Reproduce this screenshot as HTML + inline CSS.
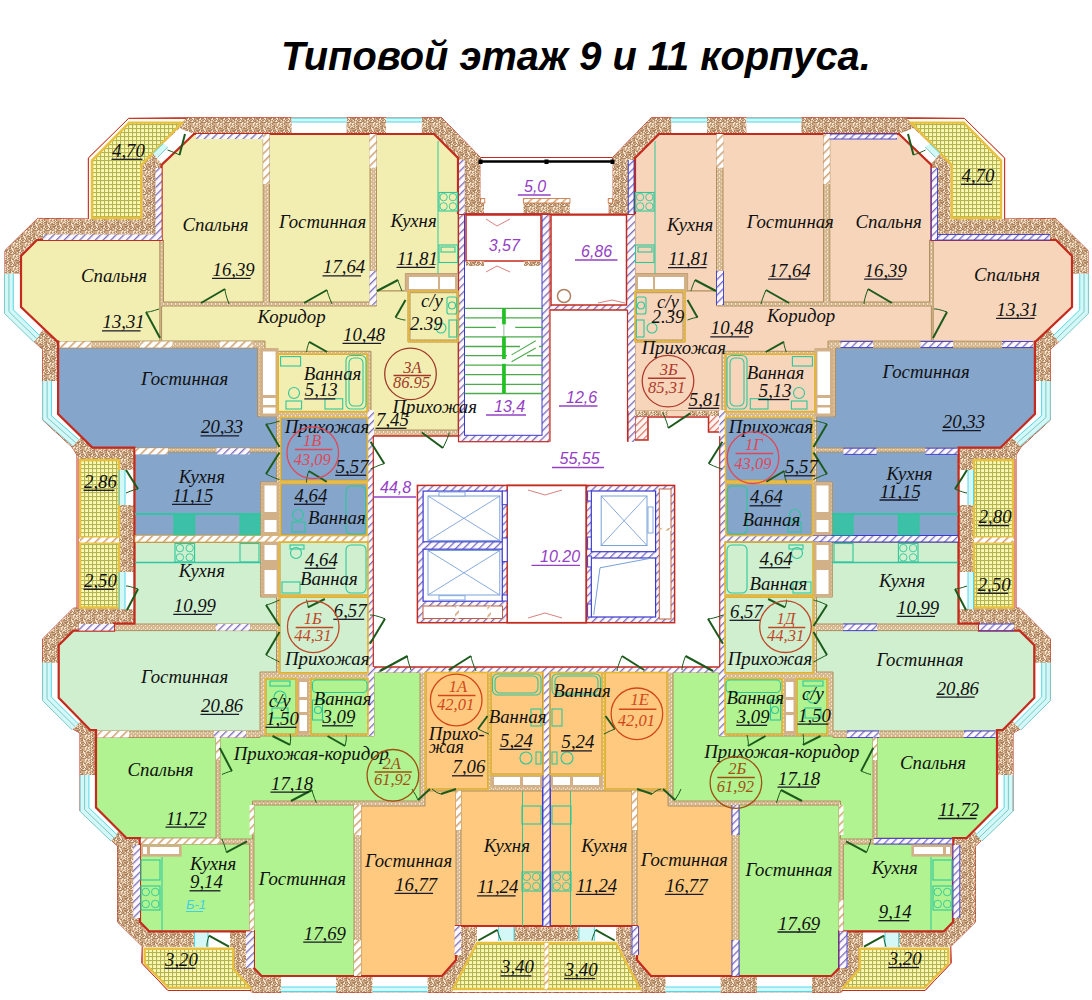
<!DOCTYPE html>
<html><head><meta charset="utf-8"><title>Типовой этаж</title>
<style>html,body{margin:0;padding:0;background:#fff;width:1092px;height:1000px;overflow:hidden}svg{display:block}</style>
</head><body><svg width="1092" height="1000" viewBox="0 0 1092 1000"><defs>
<pattern id="bal" width="4" height="4" patternUnits="userSpaceOnUse"><rect width="4" height="4" fill="#fbfab4"/><rect width="1.1" height="4" fill="#b4b452"/><rect width="4" height="1.1" fill="#b4b452"/></pattern>
<pattern id="hatchB" width="5.5" height="5.5" patternUnits="userSpaceOnUse" patternTransform="rotate(45)"><rect width="5.5" height="5.5" fill="#fdf8ff"/><rect width="1.3" height="5.5" fill="#7870b8"/></pattern>
<pattern id="hatchO" width="6" height="6" patternUnits="userSpaceOnUse" patternTransform="rotate(45)"><rect width="6" height="6" fill="#fff"/><rect width="1.5" height="6" fill="#d0a070"/></pattern>
<pattern id="brick" width="12" height="12" patternUnits="userSpaceOnUse"><rect width="12" height="12" fill="#cfab88"/><rect x="0" y="0" width="1" height="1" fill="#f3e3cd"/><rect x="1" y="0" width="1" height="1" fill="#ad8462"/><rect x="3" y="0" width="1" height="1" fill="#ad8462"/><rect x="5" y="0" width="1" height="1" fill="#f3e3cd"/><rect x="6" y="0" width="1" height="1" fill="#ad8462"/><rect x="8" y="0" width="1" height="1" fill="#ad8462"/><rect x="9" y="0" width="1" height="1" fill="#f3e3cd"/><rect x="10" y="0" width="1" height="1" fill="#ad8462"/><rect x="11" y="0" width="1" height="1" fill="#ad8462"/><rect x="0" y="1" width="1" height="1" fill="#f3e3cd"/><rect x="2" y="1" width="1" height="1" fill="#ad8462"/><rect x="3" y="1" width="1" height="1" fill="#ad8462"/><rect x="7" y="1" width="1" height="1" fill="#f3e3cd"/><rect x="9" y="1" width="1" height="1" fill="#ad8462"/><rect x="11" y="1" width="1" height="1" fill="#f3e3cd"/><rect x="0" y="2" width="1" height="1" fill="#ad8462"/><rect x="1" y="2" width="1" height="1" fill="#ad8462"/><rect x="2" y="2" width="1" height="1" fill="#f3e3cd"/><rect x="4" y="2" width="1" height="1" fill="#ad8462"/><rect x="7" y="2" width="1" height="1" fill="#f3e3cd"/><rect x="9" y="2" width="1" height="1" fill="#ad8462"/><rect x="10" y="2" width="1" height="1" fill="#ad8462"/><rect x="11" y="2" width="1" height="1" fill="#ad8462"/><rect x="1" y="3" width="1" height="1" fill="#f3e3cd"/><rect x="2" y="3" width="1" height="1" fill="#f3e3cd"/><rect x="4" y="3" width="1" height="1" fill="#f3e3cd"/><rect x="5" y="3" width="1" height="1" fill="#f3e3cd"/><rect x="8" y="3" width="1" height="1" fill="#ad8462"/><rect x="1" y="4" width="1" height="1" fill="#f3e3cd"/><rect x="3" y="4" width="1" height="1" fill="#ad8462"/><rect x="4" y="4" width="1" height="1" fill="#f3e3cd"/><rect x="6" y="4" width="1" height="1" fill="#ad8462"/><rect x="7" y="4" width="1" height="1" fill="#f3e3cd"/><rect x="8" y="4" width="1" height="1" fill="#ad8462"/><rect x="1" y="5" width="1" height="1" fill="#f3e3cd"/><rect x="5" y="5" width="1" height="1" fill="#f3e3cd"/><rect x="8" y="5" width="1" height="1" fill="#f3e3cd"/><rect x="10" y="5" width="1" height="1" fill="#ad8462"/><rect x="3" y="6" width="1" height="1" fill="#f3e3cd"/><rect x="4" y="6" width="1" height="1" fill="#f3e3cd"/><rect x="6" y="6" width="1" height="1" fill="#ad8462"/><rect x="7" y="6" width="1" height="1" fill="#f3e3cd"/><rect x="8" y="6" width="1" height="1" fill="#ad8462"/><rect x="9" y="6" width="1" height="1" fill="#ad8462"/><rect x="10" y="6" width="1" height="1" fill="#ad8462"/><rect x="0" y="7" width="1" height="1" fill="#ad8462"/><rect x="1" y="7" width="1" height="1" fill="#ad8462"/><rect x="2" y="7" width="1" height="1" fill="#f3e3cd"/><rect x="4" y="7" width="1" height="1" fill="#ad8462"/><rect x="5" y="7" width="1" height="1" fill="#f3e3cd"/><rect x="10" y="7" width="1" height="1" fill="#ad8462"/><rect x="11" y="7" width="1" height="1" fill="#f3e3cd"/><rect x="0" y="8" width="1" height="1" fill="#f3e3cd"/><rect x="3" y="8" width="1" height="1" fill="#ad8462"/><rect x="4" y="8" width="1" height="1" fill="#ad8462"/><rect x="5" y="8" width="1" height="1" fill="#ad8462"/><rect x="6" y="8" width="1" height="1" fill="#ad8462"/><rect x="7" y="8" width="1" height="1" fill="#f3e3cd"/><rect x="9" y="8" width="1" height="1" fill="#ad8462"/><rect x="10" y="8" width="1" height="1" fill="#ad8462"/><rect x="11" y="8" width="1" height="1" fill="#f3e3cd"/><rect x="0" y="9" width="1" height="1" fill="#f3e3cd"/><rect x="7" y="9" width="1" height="1" fill="#ad8462"/><rect x="0" y="10" width="1" height="1" fill="#f3e3cd"/><rect x="1" y="10" width="1" height="1" fill="#f3e3cd"/><rect x="2" y="10" width="1" height="1" fill="#ad8462"/><rect x="4" y="10" width="1" height="1" fill="#ad8462"/><rect x="5" y="10" width="1" height="1" fill="#ad8462"/><rect x="6" y="10" width="1" height="1" fill="#ad8462"/><rect x="7" y="10" width="1" height="1" fill="#ad8462"/><rect x="8" y="10" width="1" height="1" fill="#f3e3cd"/><rect x="9" y="10" width="1" height="1" fill="#ad8462"/><rect x="10" y="10" width="1" height="1" fill="#ad8462"/><rect x="11" y="10" width="1" height="1" fill="#ad8462"/><rect x="0" y="11" width="1" height="1" fill="#ad8462"/><rect x="1" y="11" width="1" height="1" fill="#f3e3cd"/><rect x="2" y="11" width="1" height="1" fill="#ad8462"/><rect x="5" y="11" width="1" height="1" fill="#ad8462"/><rect x="6" y="11" width="1" height="1" fill="#ad8462"/><rect x="7" y="11" width="1" height="1" fill="#f3e3cd"/><rect x="8" y="11" width="1" height="1" fill="#f3e3cd"/><rect x="9" y="11" width="1" height="1" fill="#ad8462"/></pattern>
<pattern id="hatchR" width="5" height="5" patternUnits="userSpaceOnUse" patternTransform="rotate(45)"><rect width="5" height="5" fill="#fff4f0"/><rect width="1.2" height="5" fill="#d87060"/></pattern>
<pattern id="ibrick" width="4" height="4" patternUnits="userSpaceOnUse"><rect width="4" height="4" fill="#d6b993"/><rect x="1" y="1" width="1" height="1" fill="#f6ead6"/><rect x="3" y="3" width="1" height="1" fill="#f6ead6"/><rect x="3" y="0" width="1" height="1" fill="#efe0c6"/></pattern>
</defs><polygon points="546.50,214.00 484.00,214.00 484.00,199.00 480.50,199.00 480.50,157.50 441.75,117.70 186.00,117.70 129.00,118.40 88.40,158.00 88.40,219.00 37.50,218.40 5.00,250.60 5.00,313.00 33.60,341.00 42.70,349.60 42.70,420.00 72.00,447.00 77.00,455.00 77.00,608.00 73.40,608.20 42.60,639.00 42.60,700.00 72.00,728.60 80.00,733.00 80.00,811.00 112.00,841.00 117.50,846.00 117.50,922.00 142.50,946.70 141.70,962.80 167.50,990.00 250.00,990.00 252.00,992.50 546.50,992.50 546.50,992.50 841.00,992.50 843.00,990.00 925.50,990.00 951.30,962.80 950.50,946.70 975.50,922.00 975.50,846.00 981.00,841.00 1013.00,811.00 1013.00,733.00 1021.00,728.60 1050.40,700.00 1050.40,639.00 1019.60,608.20 1016.00,608.00 1016.00,455.00 1021.00,447.00 1050.30,420.00 1050.30,349.60 1059.40,341.00 1088.00,313.00 1088.00,250.60 1055.50,218.40 1004.60,219.00 1004.60,158.00 964.00,118.40 907.00,117.70 651.25,117.70 612.50,157.50 612.50,199.00 609.00,199.00 609.00,214.00 546.50,214.00" fill="url(#ibrick)" stroke="#c42a1e" stroke-width="1" />
<path d="M546.50,214.00 L484.00,214.00 L484.00,199.00 L480.50,199.00 L480.50,157.50 L441.75,117.70 L186.00,117.70 L129.00,118.40 L88.40,158.00 L88.40,219.00 L37.50,218.40 L5.00,250.60 L5.00,313.00 L33.60,341.00 L42.70,349.60 L42.70,420.00 L72.00,447.00 L77.00,455.00 L77.00,608.00 L73.40,608.20 L42.60,639.00 L42.60,700.00 L72.00,728.60 L80.00,733.00 L80.00,811.00 L112.00,841.00 L117.50,846.00 L117.50,922.00 L142.50,946.70 L141.70,962.80 L167.50,990.00 L250.00,990.00 L252.00,992.50 L546.50,992.50 L546.50,992.50 L841.00,992.50 L843.00,990.00 L925.50,990.00 L951.30,962.80 L950.50,946.70 L975.50,922.00 L975.50,846.00 L981.00,841.00 L1013.00,811.00 L1013.00,733.00 L1021.00,728.60 L1050.40,700.00 L1050.40,639.00 L1019.60,608.20 L1016.00,608.00 L1016.00,455.00 L1021.00,447.00 L1050.30,420.00 L1050.30,349.60 L1059.40,341.00 L1088.00,313.00 L1088.00,250.60 L1055.50,218.40 L1004.60,219.00 L1004.60,158.00 L964.00,118.40 L907.00,117.70 L651.25,117.70 L612.50,157.50 L612.50,199.00 L609.00,199.00 L609.00,214.00 L546.50,214.00 Z M458.00,214.00 L458.00,158.00 L434.00,134.00 L194.00,134.00 L161.60,165.00 L161.60,240.00 L37.00,240.00 L21.00,256.00 L21.00,307.00 L57.40,341.60 L58.10,341.60 L58.10,414.00 L92.40,447.60 L134.40,447.60 L134.40,623.60 L114.00,623.60 L114.00,630.60 L73.40,630.60 L58.70,645.30 L58.70,697.80 L90.20,730.00 L96.00,730.00 L96.00,807.50 L126.40,838.00 L140.00,838.00 L140.00,922.00 L149.30,931.40 L253.90,931.40 L253.90,968.00 L261.50,976.00 L442.00,976.00 L456.00,960.00 L456.00,926.00 L546.50,926.00 L546.50,926.00 L637.00,926.00 L637.00,960.00 L651.00,976.00 L831.50,976.00 L839.10,968.00 L839.10,931.40 L943.70,931.40 L953.00,922.00 L953.00,838.00 L966.60,838.00 L997.00,807.50 L997.00,730.00 L1002.80,730.00 L1034.30,697.80 L1034.30,645.30 L1019.60,630.60 L979.00,630.60 L979.00,623.60 L958.60,623.60 L958.60,447.60 L1000.60,447.60 L1034.90,414.00 L1034.90,341.60 L1035.60,341.60 L1072.00,307.00 L1072.00,256.00 L1056.00,240.00 L931.40,240.00 L931.40,165.00 L899.00,134.00 L659.00,134.00 L635.00,158.00 L635.00,214.00 Z" fill="url(#brick)" fill-rule="evenodd"/>
<polygon points="88.40,219.00 88.40,158.00 128.60,118.40 186.00,118.40 142.40,165.00 142.40,219.00" fill="#fffef0" stroke="none" stroke-width="0" />
<polygon points="1004.60,219.00 1004.60,158.00 964.40,118.40 907.00,118.40 950.60,165.00 950.60,219.00" fill="#fffef0" stroke="none" stroke-width="0" />
<polygon points="77.00,459.00 119.00,459.00 119.00,608.00 77.00,608.00" fill="#fffef0" stroke="none" stroke-width="0" />
<polygon points="1016.00,459.00 974.00,459.00 974.00,608.00 1016.00,608.00" fill="#fffef0" stroke="none" stroke-width="0" />
<polygon points="142.20,946.70 233.20,946.70 233.20,968.00 251.00,990.50 168.00,990.50 142.20,963.50" fill="#fffef0" stroke="none" stroke-width="0" />
<polygon points="950.80,946.70 859.80,946.70 859.80,968.00 842.00,990.50 925.00,990.50 950.80,963.50" fill="#fffef0" stroke="none" stroke-width="0" />
<polygon points="476.00,941.00 546.50,941.00 546.50,992.00 452.00,992.00" fill="#fffef0" stroke="none" stroke-width="0" />
<polygon points="617.00,941.00 546.50,941.00 546.50,992.00 641.00,992.00" fill="#fffef0" stroke="none" stroke-width="0" />
<polygon points="92.00,218.00 92.00,160.40 129.20,122.60 182.00,122.60 141.20,165.20 141.20,218.00" fill="url(#bal)" stroke="#e8c040" stroke-width="2.4" />
<polygon points="1001.00,218.00 1001.00,160.40 963.80,122.60 911.00,122.60 951.80,165.20 951.80,218.00" fill="url(#bal)" stroke="#e8c040" stroke-width="2.4" />
<polygon points="80.00,460.00 119.00,460.00 119.00,537.50 80.00,537.50" fill="url(#bal)" stroke="#e8c040" stroke-width="2.4" />
<polygon points="1013.00,460.00 974.00,460.00 974.00,537.50 1013.00,537.50" fill="url(#bal)" stroke="#e8c040" stroke-width="2.4" />
<polygon points="80.00,542.50 119.00,542.50 119.00,607.50 80.00,607.50" fill="url(#bal)" stroke="#e8c040" stroke-width="2.4" />
<polygon points="1013.00,542.50 974.00,542.50 974.00,607.50 1013.00,607.50" fill="url(#bal)" stroke="#e8c040" stroke-width="2.4" />
<polygon points="144.70,948.70 233.20,948.70 233.20,968.60 249.90,987.80 168.50,987.80 144.70,963.50" fill="url(#bal)" stroke="#e8c040" stroke-width="2.4" />
<polygon points="948.30,948.70 859.80,948.70 859.80,968.60 843.10,987.80 924.50,987.80 948.30,963.50" fill="url(#bal)" stroke="#e8c040" stroke-width="2.4" />
<polygon points="477.00,943.00 545.00,943.00 545.00,989.00 453.00,989.00" fill="url(#bal)" stroke="#e8c040" stroke-width="2.4" />
<polygon points="616.00,943.00 548.00,943.00 548.00,989.00 640.00,989.00" fill="url(#bal)" stroke="#e8c040" stroke-width="2.4" />
<rect x="80.00" y="537.50" width="39.00" height="5.00" fill="url(#hatchO)" stroke="none" stroke-width="0" />
<rect x="974.00" y="537.50" width="39.00" height="5.00" fill="url(#hatchO)" stroke="none" stroke-width="0" />
<rect x="545.00" y="943.00" width="3.50" height="46.00" fill="url(#hatchO)" stroke="none" stroke-width="0" />
<rect x="544.50" y="943.00" width="3.50" height="46.00" fill="url(#hatchO)" stroke="none" stroke-width="0" />
<polyline points="88.40,219.00 88.40,158.00 128.60,118.40 186.00,118.40" fill="none" stroke="#c42a1e" stroke-width="1" />
<polyline points="1004.60,219.00 1004.60,158.00 964.40,118.40 907.00,118.40" fill="none" stroke="#c42a1e" stroke-width="1" />
<polyline points="78.00,459.00 78.00,608.00" fill="none" stroke="#c42a1e" stroke-width="1" />
<polyline points="1015.00,459.00 1015.00,608.00" fill="none" stroke="#c42a1e" stroke-width="1" />
<polyline points="142.20,946.70 142.20,963.50 168.00,990.50 251.00,990.50" fill="none" stroke="#c42a1e" stroke-width="1" />
<polyline points="950.80,946.70 950.80,963.50 925.00,990.50 842.00,990.50" fill="none" stroke="#c42a1e" stroke-width="1" />
<polygon points="37.00,240.00 159.80,240.00 159.80,341.00 57.40,341.60 21.00,307.00 21.00,256.00" fill="#f2eeb2" stroke="#b0905f" stroke-width="1" />
<polygon points="1056.00,240.00 933.20,240.00 933.20,341.00 1035.60,341.60 1072.00,307.00 1072.00,256.00" fill="#f7d5ba" stroke="#b0905f" stroke-width="1" />
<polygon points="194.00,134.00 263.20,134.00 263.20,302.00 163.50,302.00 163.50,240.00 161.60,240.00 161.60,164.00" fill="#f2eeb2" stroke="#b0905f" stroke-width="1" />
<polygon points="899.00,134.00 829.80,134.00 829.80,302.00 929.50,302.00 929.50,240.00 931.40,240.00 931.40,164.00" fill="#f7d5ba" stroke="#b0905f" stroke-width="1" />
<polygon points="269.50,134.00 370.00,134.00 370.00,302.00 269.50,302.00" fill="#f2eeb2" stroke="#b0905f" stroke-width="1" />
<polygon points="823.50,134.00 723.00,134.00 723.00,302.00 823.50,302.00" fill="#f7d5ba" stroke="#b0905f" stroke-width="1" />
<polygon points="376.50,134.00 434.00,134.00 458.00,158.00 458.00,273.50 405.40,273.50 405.40,291.00 376.50,291.00" fill="#f2eeb2" stroke="#b0905f" stroke-width="1" />
<polygon points="716.50,134.00 659.00,134.00 635.00,158.00 635.00,273.50 687.60,273.50 687.60,291.00 716.50,291.00" fill="#f7d5ba" stroke="#b0905f" stroke-width="1" />
<polygon points="410.00,292.70 457.00,292.70 457.00,340.00 410.00,340.00" fill="#f2eeb2" stroke="#b0905f" stroke-width="1" />
<polygon points="683.00,292.70 636.00,292.70 636.00,340.00 683.00,340.00" fill="#f7d5ba" stroke="#b0905f" stroke-width="1" />
<polygon points="278.50,354.50 367.00,354.50 367.00,411.40 278.50,411.40" fill="#f2eeb2" stroke="#b0905f" stroke-width="1" />
<polygon points="814.50,354.50 726.00,354.50 726.00,411.40 814.50,411.40" fill="#f7d5ba" stroke="#b0905f" stroke-width="1" />
<polygon points="161.60,306.00 376.50,306.00 376.50,291.00 408.00,291.00 408.00,342.00 458.00,342.00 458.00,430.00 371.00,430.00 371.00,351.30 265.00,351.30 265.00,341.00 161.60,341.00" fill="#f2eeb2" stroke="#b0905f" stroke-width="1" />
<polygon points="931.40,306.00 716.50,306.00 716.50,291.00 685.00,291.00 685.00,342.00 635.00,342.00 635.00,411.00 722.00,411.00 722.00,351.30 828.00,351.30 828.00,341.00 931.40,341.00" fill="#f7d5ba" stroke="#b0905f" stroke-width="1" />
<polygon points="58.10,348.00 257.50,348.00 257.50,416.50 276.50,416.50 276.50,448.00 92.40,448.00 58.10,414.00" fill="#85a5cb" stroke="#b0905f" stroke-width="1" />
<polygon points="1034.90,348.00 835.50,348.00 835.50,416.50 816.50,416.50 816.50,448.00 1000.60,448.00 1034.90,414.00" fill="#85a5cb" stroke="#b0905f" stroke-width="1" />
<polygon points="135.00,452.00 276.50,452.00 276.50,482.00 260.70,482.00 260.70,535.50 135.00,535.50" fill="#85a5cb" stroke="#b0905f" stroke-width="1" />
<polygon points="958.00,452.00 816.50,452.00 816.50,482.00 832.30,482.00 832.30,535.50 958.00,535.50" fill="#85a5cb" stroke="#b0905f" stroke-width="1" />
<polygon points="281.00,418.00 367.20,418.00 367.20,480.20 281.00,480.20" fill="#85a5cb" stroke="#b0905f" stroke-width="1" />
<polygon points="812.00,418.00 725.80,418.00 725.80,480.20 812.00,480.20" fill="#85a5cb" stroke="#b0905f" stroke-width="1" />
<polygon points="281.00,484.00 366.50,484.00 366.50,535.00 281.00,535.00" fill="#85a5cb" stroke="#b0905f" stroke-width="1" />
<polygon points="812.00,484.00 726.50,484.00 726.50,535.00 812.00,535.00" fill="#85a5cb" stroke="#b0905f" stroke-width="1" />
<polygon points="135.00,542.50 260.70,542.50 260.70,597.00 276.50,597.00 276.50,624.00 135.00,624.00" fill="#cfefcf" stroke="#b0905f" stroke-width="1" />
<polygon points="958.00,542.50 832.30,542.50 832.30,597.00 816.50,597.00 816.50,624.00 958.00,624.00" fill="#cfefcf" stroke="#b0905f" stroke-width="1" />
<polygon points="73.40,630.60 276.50,630.60 276.50,672.00 260.00,672.00 260.00,731.00 90.20,731.00 58.70,697.80 58.70,645.30" fill="#cfefcf" stroke="#b0905f" stroke-width="1" />
<polygon points="1019.60,630.60 816.50,630.60 816.50,672.00 833.00,672.00 833.00,731.00 1002.80,731.00 1034.30,697.80 1034.30,645.30" fill="#cfefcf" stroke="#b0905f" stroke-width="1" />
<polygon points="280.00,597.50 367.50,597.50 367.50,672.50 280.00,672.50" fill="#cfefcf" stroke="#b0905f" stroke-width="1" />
<polygon points="813.00,597.50 725.50,597.50 725.50,672.50 813.00,672.50" fill="#cfefcf" stroke="#b0905f" stroke-width="1" />
<polygon points="280.00,542.50 367.50,542.50 367.50,595.00 280.00,595.00" fill="#cfefcf" stroke="#b0905f" stroke-width="1" />
<polygon points="813.00,542.50 725.50,542.50 725.50,595.00 813.00,595.00" fill="#cfefcf" stroke="#b0905f" stroke-width="1" />
<polygon points="96.00,737.50 216.00,737.50 216.00,838.00 126.40,838.00 96.00,807.50" fill="#b0f390" stroke="#b0905f" stroke-width="1" />
<polygon points="997.00,737.50 877.00,737.50 877.00,838.00 966.60,838.00 997.00,807.50" fill="#b0f390" stroke="#b0905f" stroke-width="1" />
<polygon points="220.00,737.50 260.00,737.50 260.00,736.00 374.00,736.00 374.00,672.50 420.00,672.50 420.00,801.00 252.50,801.00 252.50,839.00 220.00,839.00" fill="#b0f390" stroke="#b0905f" stroke-width="1" />
<polygon points="873.00,737.50 833.00,737.50 833.00,736.00 719.00,736.00 719.00,672.50 673.00,672.50 673.00,801.00 840.50,801.00 840.50,839.00 873.00,839.00" fill="#b0f390" stroke="#b0905f" stroke-width="1" />
<polygon points="253.90,805.00 354.00,805.00 354.00,976.00 261.50,976.00 253.90,968.00" fill="#b0f390" stroke="#b0905f" stroke-width="1" />
<polygon points="839.10,805.00 739.00,805.00 739.00,976.00 831.50,976.00 839.10,968.00" fill="#b0f390" stroke="#b0905f" stroke-width="1" />
<polygon points="140.00,844.00 249.60,844.00 249.60,931.40 149.30,931.40 140.00,922.00" fill="#b0f390" stroke="#b0905f" stroke-width="1" />
<polygon points="953.00,844.00 843.40,844.00 843.40,931.40 943.70,931.40 953.00,922.00" fill="#b0f390" stroke="#b0905f" stroke-width="1" />
<polygon points="266.00,679.00 296.00,679.00 296.00,734.00 266.00,734.00" fill="#b0f390" stroke="#b0905f" stroke-width="1" />
<polygon points="827.00,679.00 797.00,679.00 797.00,734.00 827.00,734.00" fill="#b0f390" stroke="#b0905f" stroke-width="1" />
<polygon points="311.00,679.00 367.50,679.00 367.50,734.00 311.00,734.00" fill="#b0f390" stroke="#b0905f" stroke-width="1" />
<polygon points="782.00,679.00 725.50,679.00 725.50,734.00 782.00,734.00" fill="#b0f390" stroke="#b0905f" stroke-width="1" />
<polygon points="426.00,672.00 487.50,672.00 487.50,789.00 426.00,789.00" fill="#ffc980" stroke="#b0905f" stroke-width="1" />
<polygon points="667.00,672.00 605.50,672.00 605.50,789.00 667.00,789.00" fill="#ffc980" stroke="#b0905f" stroke-width="1" />
<polygon points="491.00,672.00 542.50,672.00 542.50,774.00 491.00,774.00" fill="#ffc980" stroke="#b0905f" stroke-width="1" />
<polygon points="602.00,672.00 550.50,672.00 550.50,774.00 602.00,774.00" fill="#ffc980" stroke="#b0905f" stroke-width="1" />
<polygon points="361.00,806.00 425.00,806.00 425.00,791.00 456.00,791.00 456.00,960.00 442.00,976.00 361.00,976.00" fill="#ffc980" stroke="#b0905f" stroke-width="1" />
<polygon points="732.00,806.00 668.00,806.00 668.00,791.00 637.00,791.00 637.00,960.00 651.00,976.00 732.00,976.00" fill="#ffc980" stroke="#b0905f" stroke-width="1" />
<polygon points="461.00,791.00 542.50,791.00 542.50,926.00 461.00,926.00" fill="#ffc980" stroke="#b0905f" stroke-width="1" />
<polygon points="632.00,791.00 550.50,791.00 550.50,926.00 632.00,926.00" fill="#ffc980" stroke="#b0905f" stroke-width="1" />
<polygon points="291.60,117.70 346.60,117.70 346.60,133.80 291.60,133.80" fill="#ffffff" stroke="none" stroke-width="0" />
<polygon points="801.40,117.70 746.40,117.70 746.40,133.80 801.40,133.80" fill="#ffffff" stroke="none" stroke-width="0" />
<polygon points="386.00,117.70 421.70,117.70 421.70,133.80 386.00,133.80" fill="#ffffff" stroke="none" stroke-width="0" />
<polygon points="707.00,117.70 671.30,117.70 671.30,133.80 707.00,133.80" fill="#ffffff" stroke="none" stroke-width="0" />
<polygon points="153.00,153.40 179.40,128.20 193.20,133.50 161.40,163.60" fill="#ffffff" stroke="none" stroke-width="0" />
<polygon points="940.00,153.40 913.60,128.20 899.80,133.50 931.60,163.60" fill="#ffffff" stroke="none" stroke-width="0" />
<polygon points="4.55,273.70 20.65,273.70 20.65,306.80 43.50,329.00 33.60,341.80 4.55,313.50" fill="#ffffff" stroke="none" stroke-width="0" />
<polygon points="1088.45,273.70 1072.35,273.70 1072.35,306.80 1049.50,329.00 1059.40,341.80 1088.45,313.50" fill="#ffffff" stroke="none" stroke-width="0" />
<polygon points="42.70,381.00 58.10,381.00 58.10,414.00 81.50,437.00 72.80,446.00 42.70,419.60" fill="#ffffff" stroke="none" stroke-width="0" />
<polygon points="1050.30,381.00 1034.90,381.00 1034.90,414.00 1011.50,437.00 1020.20,446.00 1050.30,419.60" fill="#ffffff" stroke="none" stroke-width="0" />
<polygon points="119.00,470.00 134.40,470.00 134.40,505.00 119.00,505.00" fill="#ffffff" stroke="none" stroke-width="0" />
<polygon points="974.00,470.00 958.60,470.00 958.60,505.00 974.00,505.00" fill="#ffffff" stroke="none" stroke-width="0" />
<polygon points="119.00,572.00 134.40,572.00 134.40,609.00 119.00,609.00" fill="#ffffff" stroke="none" stroke-width="0" />
<polygon points="974.00,572.00 958.60,572.00 958.60,609.00 974.00,609.00" fill="#ffffff" stroke="none" stroke-width="0" />
<polygon points="42.60,662.80 58.70,662.80 58.70,697.80 81.00,720.50 72.00,729.80 42.60,700.60" fill="#ffffff" stroke="none" stroke-width="0" />
<polygon points="1050.40,662.80 1034.30,662.80 1034.30,697.80 1012.00,720.50 1021.00,729.80 1050.40,700.60" fill="#ffffff" stroke="none" stroke-width="0" />
<polygon points="80.20,775.00 96.00,775.00 96.00,807.50 119.00,830.50 111.00,841.00 80.20,811.50" fill="#ffffff" stroke="none" stroke-width="0" />
<polygon points="1012.80,775.00 997.00,775.00 997.00,807.50 974.00,830.50 982.00,841.00 1012.80,811.50" fill="#ffffff" stroke="none" stroke-width="0" />
<polygon points="194.00,931.40 230.00,931.40 230.00,947.00 194.00,947.00" fill="#ffffff" stroke="none" stroke-width="0" />
<polygon points="899.00,931.40 863.00,931.40 863.00,947.00 899.00,947.00" fill="#ffffff" stroke="none" stroke-width="0" />
<polygon points="281.00,976.00 336.00,976.00 336.00,992.50 281.00,992.50" fill="#ffffff" stroke="none" stroke-width="0" />
<polygon points="812.00,976.00 757.00,976.00 757.00,992.50 812.00,992.50" fill="#ffffff" stroke="none" stroke-width="0" />
<polygon points="372.50,976.00 427.50,976.00 427.50,992.50 372.50,992.50" fill="#ffffff" stroke="none" stroke-width="0" />
<polygon points="720.50,976.00 665.50,976.00 665.50,992.50 720.50,992.50" fill="#ffffff" stroke="none" stroke-width="0" />
<polygon points="477.00,926.00 514.00,926.00 514.00,941.00 477.00,941.00" fill="#ffffff" stroke="none" stroke-width="0" />
<polygon points="616.00,926.00 579.00,926.00 579.00,941.00 616.00,941.00" fill="#ffffff" stroke="none" stroke-width="0" />
<polyline points="8.85,273.70 8.85,311.69 36.60,338.72" fill="none" stroke="#d4f8f8" stroke-width="8.6" />
<polyline points="1084.15,273.70 1084.15,311.69 1056.40,338.72" fill="none" stroke="#d4f8f8" stroke-width="8.6" />
<polyline points="4.55,273.70 4.55,313.50 33.60,341.80" fill="none" stroke="#7cc8c8" stroke-width="1" />
<polyline points="1088.45,273.70 1088.45,313.50 1059.40,341.80" fill="none" stroke="#7cc8c8" stroke-width="1" />
<polyline points="8.95,273.70 8.95,311.64 36.67,338.65" fill="none" stroke="#7cc8c8" stroke-width="1" />
<polyline points="1084.05,273.70 1084.05,311.64 1056.33,338.65" fill="none" stroke="#7cc8c8" stroke-width="1" />
<polyline points="13.25,273.70 13.25,309.83 39.67,335.57" fill="none" stroke="#4fd8e8" stroke-width="1" />
<polyline points="1079.75,273.70 1079.75,309.83 1053.33,335.57" fill="none" stroke="#4fd8e8" stroke-width="1" />
<polyline points="47.00,381.00 47.00,417.65 75.64,442.77" fill="none" stroke="#d4f8f8" stroke-width="8.6" />
<polyline points="1046.00,381.00 1046.00,417.65 1017.36,442.77" fill="none" stroke="#d4f8f8" stroke-width="8.6" />
<polyline points="42.70,381.00 42.70,419.60 72.80,446.00" fill="none" stroke="#7cc8c8" stroke-width="1" />
<polyline points="1050.30,381.00 1050.30,419.60 1020.20,446.00" fill="none" stroke="#7cc8c8" stroke-width="1" />
<polyline points="47.10,381.00 47.10,417.61 75.70,442.69" fill="none" stroke="#7cc8c8" stroke-width="1" />
<polyline points="1045.90,381.00 1045.90,417.61 1017.30,442.69" fill="none" stroke="#7cc8c8" stroke-width="1" />
<polyline points="51.40,381.00 51.40,415.66 78.54,439.46" fill="none" stroke="#4fd8e8" stroke-width="1" />
<polyline points="1041.60,381.00 1041.60,415.66 1014.46,439.46" fill="none" stroke="#4fd8e8" stroke-width="1" />
<polyline points="46.90,662.80 46.90,698.81 75.03,726.75" fill="none" stroke="#d4f8f8" stroke-width="8.6" />
<polyline points="1046.10,662.80 1046.10,698.81 1017.97,726.75" fill="none" stroke="#d4f8f8" stroke-width="8.6" />
<polyline points="42.60,662.80 42.60,700.60 72.00,729.80" fill="none" stroke="#7cc8c8" stroke-width="1" />
<polyline points="1050.40,662.80 1050.40,700.60 1021.00,729.80" fill="none" stroke="#7cc8c8" stroke-width="1" />
<polyline points="47.00,662.80 47.00,698.77 75.10,726.68" fill="none" stroke="#7cc8c8" stroke-width="1" />
<polyline points="1046.00,662.80 1046.00,698.77 1017.90,726.68" fill="none" stroke="#7cc8c8" stroke-width="1" />
<polyline points="51.30,662.80 51.30,696.98 78.13,723.63" fill="none" stroke="#4fd8e8" stroke-width="1" />
<polyline points="1041.70,662.80 1041.70,696.98 1014.87,723.63" fill="none" stroke="#4fd8e8" stroke-width="1" />
<polyline points="84.50,775.00 84.50,809.66 113.97,837.89" fill="none" stroke="#d4f8f8" stroke-width="8.6" />
<polyline points="1008.50,775.00 1008.50,809.66 979.03,837.89" fill="none" stroke="#d4f8f8" stroke-width="8.6" />
<polyline points="80.20,775.00 80.20,811.50 111.00,841.00" fill="none" stroke="#7cc8c8" stroke-width="1" />
<polyline points="1012.80,775.00 1012.80,811.50 982.00,841.00" fill="none" stroke="#7cc8c8" stroke-width="1" />
<polyline points="84.60,775.00 84.60,809.62 114.04,837.82" fill="none" stroke="#7cc8c8" stroke-width="1" />
<polyline points="1008.40,775.00 1008.40,809.62 978.96,837.82" fill="none" stroke="#7cc8c8" stroke-width="1" />
<polyline points="88.90,775.00 88.90,807.79 117.02,834.72" fill="none" stroke="#4fd8e8" stroke-width="1" />
<polyline points="1004.10,775.00 1004.10,807.79 975.98,834.72" fill="none" stroke="#4fd8e8" stroke-width="1" />
<rect x="291.60" y="117.70" width="55.00" height="4.30" fill="#d4f8f8" stroke="none" stroke-width="0" />
<rect x="746.40" y="117.70" width="55.00" height="4.30" fill="#d4f8f8" stroke="none" stroke-width="0" />
<rect x="386.00" y="117.70" width="35.70" height="4.30" fill="#d4f8f8" stroke="none" stroke-width="0" />
<rect x="671.30" y="117.70" width="35.70" height="4.30" fill="#d4f8f8" stroke="none" stroke-width="0" />
<rect x="281.00" y="987.00" width="55.00" height="5.50" fill="#d4f8f8" stroke="none" stroke-width="0" />
<rect x="757.00" y="987.00" width="55.00" height="5.50" fill="#d4f8f8" stroke="none" stroke-width="0" />
<rect x="372.50" y="987.00" width="55.00" height="5.50" fill="#d4f8f8" stroke="none" stroke-width="0" />
<rect x="665.50" y="987.00" width="55.00" height="5.50" fill="#d4f8f8" stroke="none" stroke-width="0" />
<rect x="498.60" y="926.00" width="15.40" height="15.00" fill="#d4f8f8" stroke="none" stroke-width="0" />
<rect x="579.00" y="926.00" width="15.40" height="15.00" fill="#d4f8f8" stroke="none" stroke-width="0" />
<rect x="194.00" y="931.40" width="14.00" height="15.60" fill="#d4f8f8" stroke="none" stroke-width="0" />
<rect x="885.00" y="931.40" width="14.00" height="15.60" fill="#d4f8f8" stroke="none" stroke-width="0" />
<rect x="119.00" y="470.00" width="6.00" height="35.00" fill="#d4f8f8" stroke="none" stroke-width="0" />
<rect x="968.00" y="470.00" width="6.00" height="35.00" fill="#d4f8f8" stroke="none" stroke-width="0" />
<rect x="119.00" y="572.00" width="6.00" height="37.00" fill="#d4f8f8" stroke="none" stroke-width="0" />
<rect x="968.00" y="572.00" width="6.00" height="37.00" fill="#d4f8f8" stroke="none" stroke-width="0" />
<line x1="291.60" y1="118.20" x2="346.60" y2="118.20" stroke="#4fd8e8" stroke-width="1" />
<line x1="801.40" y1="118.20" x2="746.40" y2="118.20" stroke="#4fd8e8" stroke-width="1" />
<line x1="291.60" y1="122.00" x2="346.60" y2="122.00" stroke="#4fd8e8" stroke-width="1" />
<line x1="801.40" y1="122.00" x2="746.40" y2="122.00" stroke="#4fd8e8" stroke-width="1" />
<line x1="386.00" y1="118.20" x2="421.70" y2="118.20" stroke="#4fd8e8" stroke-width="1" />
<line x1="707.00" y1="118.20" x2="671.30" y2="118.20" stroke="#4fd8e8" stroke-width="1" />
<line x1="386.00" y1="122.00" x2="421.70" y2="122.00" stroke="#4fd8e8" stroke-width="1" />
<line x1="707.00" y1="122.00" x2="671.30" y2="122.00" stroke="#4fd8e8" stroke-width="1" />
<line x1="281.00" y1="991.50" x2="336.00" y2="991.50" stroke="#4fd8e8" stroke-width="1" />
<line x1="812.00" y1="991.50" x2="757.00" y2="991.50" stroke="#4fd8e8" stroke-width="1" />
<line x1="281.00" y1="987.00" x2="336.00" y2="987.00" stroke="#4fd8e8" stroke-width="1" />
<line x1="812.00" y1="987.00" x2="757.00" y2="987.00" stroke="#4fd8e8" stroke-width="1" />
<line x1="372.50" y1="991.50" x2="427.50" y2="991.50" stroke="#4fd8e8" stroke-width="1" />
<line x1="720.50" y1="991.50" x2="665.50" y2="991.50" stroke="#4fd8e8" stroke-width="1" />
<line x1="372.50" y1="987.00" x2="427.50" y2="987.00" stroke="#4fd8e8" stroke-width="1" />
<line x1="720.50" y1="987.00" x2="665.50" y2="987.00" stroke="#4fd8e8" stroke-width="1" />
<line x1="498.60" y1="926.00" x2="498.60" y2="941.00" stroke="#4fd8e8" stroke-width="1" />
<line x1="594.40" y1="926.00" x2="594.40" y2="941.00" stroke="#4fd8e8" stroke-width="1" />
<line x1="514.00" y1="926.00" x2="514.00" y2="941.00" stroke="#4fd8e8" stroke-width="1" />
<line x1="579.00" y1="926.00" x2="579.00" y2="941.00" stroke="#4fd8e8" stroke-width="1" />
<line x1="194.50" y1="931.40" x2="194.50" y2="947.00" stroke="#4fd8e8" stroke-width="1" />
<line x1="898.50" y1="931.40" x2="898.50" y2="947.00" stroke="#4fd8e8" stroke-width="1" />
<line x1="208.00" y1="931.40" x2="208.00" y2="947.00" stroke="#4fd8e8" stroke-width="1" />
<line x1="885.00" y1="931.40" x2="885.00" y2="947.00" stroke="#4fd8e8" stroke-width="1" />
<line x1="119.50" y1="470.00" x2="119.50" y2="505.00" stroke="#4fd8e8" stroke-width="1" />
<line x1="973.50" y1="470.00" x2="973.50" y2="505.00" stroke="#4fd8e8" stroke-width="1" />
<line x1="125.00" y1="470.00" x2="125.00" y2="505.00" stroke="#4fd8e8" stroke-width="1" />
<line x1="968.00" y1="470.00" x2="968.00" y2="505.00" stroke="#4fd8e8" stroke-width="1" />
<line x1="119.50" y1="572.00" x2="119.50" y2="609.00" stroke="#4fd8e8" stroke-width="1" />
<line x1="973.50" y1="572.00" x2="973.50" y2="609.00" stroke="#4fd8e8" stroke-width="1" />
<line x1="125.00" y1="572.00" x2="125.00" y2="609.00" stroke="#4fd8e8" stroke-width="1" />
<line x1="968.00" y1="572.00" x2="968.00" y2="609.00" stroke="#4fd8e8" stroke-width="1" />
<polygon points="153.00,153.40 163.20,143.60 167.80,147.00 157.50,157.40" fill="#d4f8f8" stroke="none" stroke-width="0" />
<polygon points="940.00,153.40 929.80,143.60 925.20,147.00 935.50,157.40" fill="#d4f8f8" stroke="none" stroke-width="0" />
<polyline points="153.00,153.40 163.20,143.60" fill="none" stroke="#4fd8e8" stroke-width="1" />
<polyline points="940.00,153.40 929.80,143.60" fill="none" stroke="#4fd8e8" stroke-width="1" />
<polyline points="157.50,157.40 167.80,147.00" fill="none" stroke="#7cc8c8" stroke-width="1" />
<polyline points="935.50,157.40 925.20,147.00" fill="none" stroke="#7cc8c8" stroke-width="1" />
<polyline points="458.00,214.00 458.00,158.00 434.00,134.00 194.00,134.00 161.60,165.00 161.60,240.00 37.00,240.00 21.00,256.00 21.00,307.00 57.40,341.60 58.10,341.60 58.10,414.00 92.40,447.60 134.40,447.60 134.40,623.60 114.00,623.60 114.00,630.60 73.40,630.60 58.70,645.30 58.70,697.80 90.20,730.00 96.00,730.00 96.00,807.50 126.40,838.00 140.00,838.00 140.00,922.00 149.30,931.40 253.90,931.40 253.90,968.00 261.50,976.00 442.00,976.00 456.00,960.00 456.00,926.00 546.50,926.00" fill="none" stroke="#c42a1e" stroke-width="2.2" stroke-linejoin="miter"/>
<polyline points="635.00,214.00 635.00,158.00 659.00,134.00 899.00,134.00 931.40,165.00 931.40,240.00 1056.00,240.00 1072.00,256.00 1072.00,307.00 1035.60,341.60 1034.90,341.60 1034.90,414.00 1000.60,447.60 958.60,447.60 958.60,623.60 979.00,623.60 979.00,630.60 1019.60,630.60 1034.30,645.30 1034.30,697.80 1002.80,730.00 997.00,730.00 997.00,807.50 966.60,838.00 953.00,838.00 953.00,922.00 943.70,931.40 839.10,931.40 839.10,968.00 831.50,976.00 651.00,976.00 637.00,960.00 637.00,926.00 546.50,926.00" fill="none" stroke="#c42a1e" stroke-width="2.2" stroke-linejoin="miter"/>
<rect x="480.50" y="160.00" width="132.00" height="39.00" fill="#fff" stroke="none" stroke-width="0" />
<rect x="484.00" y="203.00" width="39.30" height="11.00" fill="#fff" stroke="none" stroke-width="0" />
<rect x="570.00" y="203.00" width="38.50" height="11.00" fill="#fff" stroke="none" stroke-width="0" />
<rect x="523.30" y="198.60" width="46.70" height="15.60" fill="url(#brick)" stroke="none" stroke-width="0" />
<rect x="523.30" y="198.60" width="46.70" height="4.40" fill="url(#hatchO)" stroke="#c87040" stroke-width="0.8" />
<rect x="480.50" y="198.60" width="4.30" height="4.40" fill="url(#hatchO)" stroke="#c87040" stroke-width="0.8" />
<rect x="608.20" y="198.60" width="4.30" height="4.40" fill="url(#hatchO)" stroke="#c87040" stroke-width="0.8" />
<line x1="480.50" y1="157.50" x2="612.50" y2="157.50" stroke="#c42a1e" stroke-width="1.2" />
<line x1="480.50" y1="161.60" x2="612.50" y2="161.60" stroke="#000" stroke-width="2.5" />
<rect x="478.50" y="159.50" width="4.00" height="4.50" fill="#000" stroke="none" stroke-width="0" />
<rect x="544.50" y="159.50" width="4.00" height="4.50" fill="#000" stroke="none" stroke-width="0" />
<rect x="610.50" y="159.50" width="4.00" height="4.50" fill="#000" stroke="none" stroke-width="0" />
<rect x="367.50" y="410.00" width="6.50" height="326.00" fill="url(#hatchB)" stroke="none" stroke-width="0" />
<rect x="719.00" y="410.00" width="6.50" height="326.00" fill="url(#hatchB)" stroke="none" stroke-width="0" />
<rect x="374.00" y="436.00" width="345.50" height="231.00" fill="#fff" stroke="none" stroke-width="0" />
<rect x="549.50" y="420.00" width="170.00" height="25.00" fill="#fff" stroke="none" stroke-width="0" />
<line x1="373.30" y1="436.00" x2="458.50" y2="436.00" stroke="#c42a1e" stroke-width="1.5" />
<rect x="374.00" y="667.00" width="345.50" height="5.50" fill="url(#hatchB)" stroke="none" stroke-width="0" />
<line x1="374.00" y1="667.00" x2="719.50" y2="667.00" stroke="#c42a1e" stroke-width="1.5" />
<line x1="373.30" y1="436.00" x2="373.30" y2="667.00" stroke="#c42a1e" stroke-width="1.2" />
<line x1="719.70" y1="436.00" x2="719.70" y2="667.00" stroke="#c42a1e" stroke-width="1.2" />
<rect x="458.50" y="214.00" width="91.00" height="227.70" fill="url(#hatchB)" stroke="none" stroke-width="0" />
<rect x="464.50" y="214.00" width="77.50" height="221.30" fill="#fff" stroke="#3a3ad0" stroke-width="1" />
<rect x="466.00" y="215.00" width="75.00" height="46.00" fill="#fff" stroke="#c42a1e" stroke-width="1.5" />
<rect x="458.50" y="214.00" width="91.00" height="227.70" fill="none" stroke="#c42a1e" stroke-width="1.2" />
<rect x="466.00" y="261.00" width="18.00" height="5.00" fill="url(#brick)" stroke="none" stroke-width="0" />
<rect x="524.00" y="261.00" width="17.00" height="5.00" fill="url(#brick)" stroke="none" stroke-width="0" />
<line x1="486.00" y1="219.00" x2="497.00" y2="226.00" stroke="#d06060" stroke-width="0.8" />
<line x1="497.00" y1="226.00" x2="510.00" y2="219.00" stroke="#d06060" stroke-width="0.8" />
<line x1="486.00" y1="272.00" x2="497.00" y2="266.00" stroke="#d06060" stroke-width="0.8" />
<line x1="497.00" y1="266.00" x2="510.00" y2="272.00" stroke="#d06060" stroke-width="0.8" />
<rect x="549.50" y="214.00" width="85.50" height="227.70" fill="url(#hatchB)" stroke="none" stroke-width="0" />
<rect x="551.00" y="215.00" width="75.50" height="90.00" fill="#fff" stroke="#c42a1e" stroke-width="1.5" />
<rect x="549.50" y="310.00" width="78.00" height="135.00" fill="#fff" stroke="none" stroke-width="0" />
<line x1="550.00" y1="310.00" x2="627.50" y2="310.00" stroke="#c42a1e" stroke-width="1.5" />
<line x1="550.00" y1="310.00" x2="550.00" y2="441.70" stroke="#c42a1e" stroke-width="1.2" />
<line x1="627.50" y1="310.00" x2="627.50" y2="441.70" stroke="#c42a1e" stroke-width="1.2" />
<line x1="458.00" y1="214.20" x2="635.00" y2="214.20" stroke="#c42a1e" stroke-width="1.5" />
<circle cx="564" cy="296" r="6.5" fill="none" stroke="#b08060" stroke-width="1.5"/>
<line x1="598.00" y1="303.00" x2="612.00" y2="300.00" stroke="#d06060" stroke-width="0.8" />
<line x1="612.00" y1="300.00" x2="625.00" y2="303.00" stroke="#d06060" stroke-width="0.8" />
<rect x="628.00" y="411.00" width="7.00" height="30.70" fill="url(#hatchB)" stroke="none" stroke-width="0" />
<rect x="635.00" y="416.00" width="84.00" height="25.70" fill="#fff" stroke="none" stroke-width="0" />
<rect x="635.00" y="411.00" width="84.00" height="5.00" fill="url(#brick)" stroke="none" stroke-width="0" />
<rect x="668.00" y="411.00" width="22.00" height="5.00" fill="#f7d5ba" stroke="none" stroke-width="0" />
<rect x="635.00" y="416.00" width="13.00" height="24.00" fill="url(#hatchR)" stroke="none" stroke-width="0" />
<rect x="708.50" y="416.00" width="10.50" height="16.00" fill="url(#hatchR)" stroke="none" stroke-width="0" />
<polyline points="628.00,441.70 628.00,411.00" fill="none" stroke="#c42a1e" stroke-width="1.2" />
<polyline points="635.00,440.00 648.00,440.00 648.00,417.00 708.50,417.00 708.50,432.00 719.00,432.00" fill="none" stroke="#c42a1e" stroke-width="1.5" />
<rect x="635.50" y="416.50" width="12.00" height="23.00" fill="none" stroke="#c05050" stroke-width="0.8" />
<rect x="417.40" y="485.40" width="257.20" height="137.30" fill="url(#hatchB)" stroke="none" stroke-width="0" />
<rect x="423.10" y="491.10" width="79.20" height="50.70" fill="#fff" stroke="#3a3ad0" stroke-width="1.2" />
<rect x="423.10" y="549.20" width="79.20" height="52.00" fill="#fff" stroke="#3a3ad0" stroke-width="1.2" />
<rect x="423.00" y="606.00" width="79.50" height="12.50" fill="#fff" stroke="#c06040" stroke-width="1" />
<rect x="455.00" y="606.00" width="4.00" height="12.50" fill="url(#hatchO)" stroke="none" stroke-width="0" />
<rect x="487.40" y="606.00" width="3.60" height="12.50" fill="url(#hatchO)" stroke="none" stroke-width="0" />
<rect x="507.20" y="485.40" width="79.10" height="137.30" fill="#fff" stroke="#c42a1e" stroke-width="1.5" />
<rect x="591.30" y="491.00" width="64.30" height="60.70" fill="#fff" stroke="#3a3ad0" stroke-width="1.2" />
<rect x="591.30" y="558.00" width="64.30" height="59.00" fill="#fff" stroke="#3a3ad0" stroke-width="1.2" />
<rect x="659.30" y="489.00" width="11.70" height="130.00" fill="#fff" stroke="#c06040" stroke-width="1" />
<rect x="659.30" y="528.00" width="11.70" height="2.70" fill="url(#hatchO)" stroke="none" stroke-width="0" />
<rect x="417.40" y="485.40" width="257.20" height="137.30" fill="none" stroke="#c42a1e" stroke-width="1.5" />
<line x1="586.30" y1="485.40" x2="586.30" y2="622.70" stroke="#c42a1e" stroke-width="1.5" />
<rect x="428.00" y="496.00" width="71.80" height="44.60" fill="none" stroke="#7aa0d8" stroke-width="1" />
<line x1="428.00" y1="496.00" x2="499.80" y2="540.60" stroke="#7aa0d8" stroke-width="0.9" />
<line x1="428.00" y1="540.60" x2="499.80" y2="496.00" stroke="#7aa0d8" stroke-width="0.9" />
<rect x="428.00" y="550.50" width="71.80" height="44.50" fill="none" stroke="#7aa0d8" stroke-width="1" />
<line x1="428.00" y1="550.50" x2="499.80" y2="595.00" stroke="#7aa0d8" stroke-width="0.9" />
<line x1="428.00" y1="595.00" x2="499.80" y2="550.50" stroke="#7aa0d8" stroke-width="0.9" />
<rect x="601.20" y="496.00" width="45.80" height="49.50" fill="none" stroke="#7aa0d8" stroke-width="1" />
<line x1="601.20" y1="496.00" x2="647.00" y2="545.50" stroke="#7aa0d8" stroke-width="0.9" />
<line x1="601.20" y1="545.50" x2="647.00" y2="496.00" stroke="#7aa0d8" stroke-width="0.9" />
<rect x="439.00" y="492.00" width="26.00" height="4.00" fill="#fff" stroke="#7aa0d8" stroke-width="0.9" />
<rect x="439.00" y="595.70" width="26.00" height="4.30" fill="#fff" stroke="#7aa0d8" stroke-width="0.9" />
<rect x="648.00" y="507.00" width="5.00" height="26.00" fill="#fff" stroke="#7aa0d8" stroke-width="0.9" />
<polyline points="652.00,558.00 600.00,567.80 593.70,614.80" fill="none" stroke="#7aa0d8" stroke-width="1" />
<rect x="502.30" y="491.00" width="4.90" height="13.70" fill="#fff" stroke="#3a3ad0" stroke-width="1" />
<rect x="502.30" y="538.00" width="4.90" height="23.60" fill="#fff" stroke="#3a3ad0" stroke-width="1" />
<rect x="502.30" y="595.00" width="4.90" height="6.00" fill="#fff" stroke="#3a3ad0" stroke-width="1" />
<rect x="587.60" y="491.00" width="3.70" height="10.00" fill="#fff" stroke="#3a3ad0" stroke-width="1" />
<rect x="587.60" y="537.00" width="3.70" height="12.00" fill="#fff" stroke="#3a3ad0" stroke-width="1" />
<rect x="587.60" y="556.00" width="3.70" height="11.00" fill="#fff" stroke="#3a3ad0" stroke-width="1" />
<rect x="587.60" y="604.00" width="3.70" height="13.00" fill="#fff" stroke="#3a3ad0" stroke-width="1" />
<line x1="528.00" y1="490.00" x2="545.00" y2="495.00" stroke="#d06060" stroke-width="0.8" />
<line x1="545.00" y1="495.00" x2="562.00" y2="490.00" stroke="#d06060" stroke-width="0.8" />
<line x1="528.00" y1="618.00" x2="545.00" y2="613.00" stroke="#d06060" stroke-width="0.8" />
<line x1="545.00" y1="613.00" x2="562.00" y2="618.00" stroke="#d06060" stroke-width="0.8" />
<line x1="464.50" y1="308.40" x2="543.00" y2="308.40" stroke="#4caa4c" stroke-width="1.3" />
<line x1="464.50" y1="317.90" x2="543.00" y2="317.90" stroke="#4caa4c" stroke-width="1.3" />
<line x1="464.50" y1="327.40" x2="495.80" y2="327.40" stroke="#4caa4c" stroke-width="1.3" />
<line x1="515.20" y1="327.40" x2="543.00" y2="327.40" stroke="#4caa4c" stroke-width="1.3" />
<line x1="464.50" y1="336.80" x2="543.00" y2="336.80" stroke="#4caa4c" stroke-width="1.3" />
<line x1="464.50" y1="346.50" x2="520.00" y2="346.50" stroke="#4caa4c" stroke-width="1.3" />
<line x1="539.00" y1="346.50" x2="543.00" y2="346.50" stroke="#4caa4c" stroke-width="1.3" />
<line x1="464.50" y1="355.70" x2="507.00" y2="355.70" stroke="#4caa4c" stroke-width="1.3" />
<line x1="527.00" y1="355.70" x2="543.00" y2="355.70" stroke="#4caa4c" stroke-width="1.3" />
<line x1="464.50" y1="365.20" x2="543.00" y2="365.20" stroke="#4caa4c" stroke-width="1.3" />
<line x1="464.50" y1="374.60" x2="543.00" y2="374.60" stroke="#4caa4c" stroke-width="1.3" />
<line x1="464.50" y1="384.30" x2="543.00" y2="384.30" stroke="#4caa4c" stroke-width="1.3" />
<line x1="464.50" y1="393.50" x2="543.00" y2="393.50" stroke="#4caa4c" stroke-width="1.3" />
<rect x="502.10" y="308.40" width="3.70" height="16.00" fill="#22c022" stroke="none" stroke-width="0" />
<rect x="502.10" y="336.50" width="3.70" height="22.50" fill="#22c022" stroke="none" stroke-width="0" />
<rect x="502.10" y="363.80" width="3.70" height="29.70" fill="#22c022" stroke="none" stroke-width="0" />
<line x1="503.90" y1="324.40" x2="503.90" y2="336.50" stroke="#a0b0a0" stroke-width="1" />
<line x1="511.60" y1="354.90" x2="535.70" y2="340.70" stroke="#4caa4c" stroke-width="1.1" />
<line x1="511.60" y1="361.70" x2="535.70" y2="348.00" stroke="#4caa4c" stroke-width="1.1" />
<rect x="43.00" y="234.50" width="118.60" height="5.50" fill="url(#hatchB)" stroke="none" stroke-width="0" />
<rect x="931.40" y="234.50" width="118.60" height="5.50" fill="url(#hatchB)" stroke="none" stroke-width="0" />
<line x1="931.40" y1="234.50" x2="1050.00" y2="234.50" stroke="#3a3ad0" stroke-width="0.9" />
<line x1="931.40" y1="240.00" x2="1050.00" y2="240.00" stroke="#3a3ad0" stroke-width="0.9" />
<rect x="155.50" y="168.00" width="6.10" height="72.00" fill="url(#hatchB)" stroke="none" stroke-width="0" />
<rect x="931.40" y="168.00" width="6.10" height="72.00" fill="url(#hatchB)" stroke="none" stroke-width="0" />
<line x1="931.40" y1="168.00" x2="931.40" y2="240.00" stroke="#3a3ad0" stroke-width="0.9" />
<line x1="937.50" y1="168.00" x2="937.50" y2="240.00" stroke="#3a3ad0" stroke-width="0.9" />
<rect x="196.00" y="134.00" width="73.00" height="5.00" fill="url(#hatchB)" stroke="none" stroke-width="0" />
<rect x="824.00" y="134.00" width="73.00" height="5.00" fill="url(#hatchB)" stroke="none" stroke-width="0" />
<line x1="824.00" y1="134.00" x2="897.00" y2="134.00" stroke="#3a3ad0" stroke-width="0.9" />
<line x1="824.00" y1="139.00" x2="897.00" y2="139.00" stroke="#3a3ad0" stroke-width="0.9" />
<rect x="459.00" y="160.00" width="5.70" height="54.00" fill="url(#hatchB)" stroke="none" stroke-width="0" />
<rect x="628.30" y="160.00" width="5.70" height="54.00" fill="url(#hatchB)" stroke="none" stroke-width="0" />
<line x1="628.30" y1="160.00" x2="628.30" y2="214.00" stroke="#3a3ad0" stroke-width="0.9" />
<line x1="634.00" y1="160.00" x2="634.00" y2="214.00" stroke="#3a3ad0" stroke-width="0.9" />
<rect x="60.00" y="341.50" width="31.00" height="6.00" fill="url(#hatchO)" stroke="none" stroke-width="0" />
<rect x="1002.00" y="341.50" width="31.00" height="6.00" fill="url(#hatchB)" stroke="none" stroke-width="0" />
<line x1="1002.00" y1="341.50" x2="1033.00" y2="341.50" stroke="#3a3ad0" stroke-width="0.9" />
<line x1="1002.00" y1="347.50" x2="1033.00" y2="347.50" stroke="#3a3ad0" stroke-width="0.9" />
<rect x="140.00" y="341.50" width="32.50" height="6.00" fill="url(#hatchO)" stroke="none" stroke-width="0" />
<rect x="920.50" y="341.50" width="32.50" height="6.00" fill="url(#hatchB)" stroke="none" stroke-width="0" />
<line x1="920.50" y1="341.50" x2="953.00" y2="341.50" stroke="#3a3ad0" stroke-width="0.9" />
<line x1="920.50" y1="347.50" x2="953.00" y2="347.50" stroke="#3a3ad0" stroke-width="0.9" />
<rect x="220.00" y="341.50" width="32.50" height="6.00" fill="url(#hatchO)" stroke="none" stroke-width="0" />
<rect x="840.50" y="341.50" width="32.50" height="6.00" fill="url(#hatchB)" stroke="none" stroke-width="0" />
<line x1="840.50" y1="341.50" x2="873.00" y2="341.50" stroke="#3a3ad0" stroke-width="0.9" />
<line x1="840.50" y1="347.50" x2="873.00" y2="347.50" stroke="#3a3ad0" stroke-width="0.9" />
<rect x="135.50" y="448.20" width="32.30" height="6.20" fill="url(#hatchO)" stroke="none" stroke-width="0" />
<rect x="925.20" y="448.20" width="32.30" height="6.20" fill="url(#hatchB)" stroke="none" stroke-width="0" />
<line x1="925.20" y1="448.20" x2="957.50" y2="448.20" stroke="#3a3ad0" stroke-width="0.9" />
<line x1="925.20" y1="454.40" x2="957.50" y2="454.40" stroke="#3a3ad0" stroke-width="0.9" />
<rect x="216.50" y="448.20" width="33.00" height="6.20" fill="url(#hatchB)" stroke="none" stroke-width="0" />
<rect x="843.50" y="448.20" width="33.00" height="6.20" fill="url(#hatchB)" stroke="none" stroke-width="0" />
<line x1="843.50" y1="448.20" x2="876.50" y2="448.20" stroke="#3a3ad0" stroke-width="0.9" />
<line x1="843.50" y1="454.40" x2="876.50" y2="454.40" stroke="#3a3ad0" stroke-width="0.9" />
<rect x="79.00" y="624.00" width="35.00" height="6.60" fill="url(#hatchB)" stroke="none" stroke-width="0" />
<rect x="979.00" y="624.00" width="35.00" height="6.60" fill="url(#hatchB)" stroke="none" stroke-width="0" />
<line x1="979.00" y1="624.00" x2="1014.00" y2="624.00" stroke="#3a3ad0" stroke-width="0.9" />
<line x1="979.00" y1="630.60" x2="1014.00" y2="630.60" stroke="#3a3ad0" stroke-width="0.9" />
<rect x="216.00" y="624.00" width="34.00" height="6.60" fill="url(#hatchB)" stroke="none" stroke-width="0" />
<rect x="843.00" y="624.00" width="34.00" height="6.60" fill="url(#hatchB)" stroke="none" stroke-width="0" />
<line x1="843.00" y1="624.00" x2="877.00" y2="624.00" stroke="#3a3ad0" stroke-width="0.9" />
<line x1="843.00" y1="630.60" x2="877.00" y2="630.60" stroke="#3a3ad0" stroke-width="0.9" />
<rect x="97.50" y="731.00" width="31.50" height="6.50" fill="url(#hatchO)" stroke="none" stroke-width="0" />
<rect x="964.00" y="731.00" width="31.50" height="6.50" fill="url(#hatchB)" stroke="none" stroke-width="0" />
<line x1="964.00" y1="731.00" x2="995.50" y2="731.00" stroke="#3a3ad0" stroke-width="0.9" />
<line x1="964.00" y1="737.50" x2="995.50" y2="737.50" stroke="#3a3ad0" stroke-width="0.9" />
<rect x="214.00" y="731.00" width="32.00" height="6.50" fill="url(#hatchB)" stroke="none" stroke-width="0" />
<rect x="847.00" y="731.00" width="32.00" height="6.50" fill="url(#hatchB)" stroke="none" stroke-width="0" />
<line x1="847.00" y1="731.00" x2="879.00" y2="731.00" stroke="#3a3ad0" stroke-width="0.9" />
<line x1="847.00" y1="737.50" x2="879.00" y2="737.50" stroke="#3a3ad0" stroke-width="0.9" />
<rect x="140.80" y="838.50" width="78.20" height="5.50" fill="url(#hatchO)" stroke="none" stroke-width="0" />
<rect x="874.00" y="838.50" width="78.20" height="5.50" fill="url(#hatchB)" stroke="none" stroke-width="0" />
<line x1="874.00" y1="838.50" x2="952.20" y2="838.50" stroke="#3a3ad0" stroke-width="0.9" />
<line x1="874.00" y1="844.00" x2="952.20" y2="844.00" stroke="#3a3ad0" stroke-width="0.9" />
<rect x="133.20" y="845.00" width="6.80" height="73.00" fill="url(#hatchB)" stroke="none" stroke-width="0" />
<rect x="953.00" y="845.00" width="6.80" height="73.00" fill="url(#hatchB)" stroke="none" stroke-width="0" />
<line x1="953.00" y1="845.00" x2="953.00" y2="918.00" stroke="#3a3ad0" stroke-width="0.9" />
<line x1="959.80" y1="845.00" x2="959.80" y2="918.00" stroke="#3a3ad0" stroke-width="0.9" />
<rect x="246.00" y="931.40" width="7.90" height="36.60" fill="url(#hatchB)" stroke="none" stroke-width="0" />
<rect x="839.10" y="931.40" width="7.90" height="36.60" fill="url(#hatchB)" stroke="none" stroke-width="0" />
<line x1="839.10" y1="931.40" x2="839.10" y2="968.00" stroke="#3a3ad0" stroke-width="0.9" />
<line x1="847.00" y1="931.40" x2="847.00" y2="968.00" stroke="#3a3ad0" stroke-width="0.9" />
<rect x="454.50" y="926.00" width="6.50" height="29.00" fill="url(#hatchB)" stroke="none" stroke-width="0" />
<rect x="632.00" y="926.00" width="6.50" height="29.00" fill="url(#hatchB)" stroke="none" stroke-width="0" />
<line x1="632.00" y1="926.00" x2="632.00" y2="955.00" stroke="#3a3ad0" stroke-width="0.9" />
<line x1="638.50" y1="926.00" x2="638.50" y2="955.00" stroke="#3a3ad0" stroke-width="0.9" />
<rect x="542.50" y="750.00" width="7.50" height="176.00" fill="url(#hatchB)" stroke="none" stroke-width="0" />
<rect x="543.00" y="750.00" width="7.50" height="176.00" fill="url(#hatchB)" stroke="none" stroke-width="0" />
<line x1="543.00" y1="750.00" x2="543.00" y2="926.00" stroke="#3a3ad0" stroke-width="0.9" />
<line x1="550.50" y1="750.00" x2="550.50" y2="926.00" stroke="#3a3ad0" stroke-width="0.9" />
<rect x="354.00" y="805.00" width="7.00" height="30.00" fill="url(#hatchO)" stroke="none" stroke-width="0" />
<rect x="732.00" y="805.00" width="7.00" height="30.00" fill="url(#hatchB)" stroke="none" stroke-width="0" />
<line x1="732.00" y1="805.00" x2="732.00" y2="835.00" stroke="#3a3ad0" stroke-width="0.9" />
<line x1="739.00" y1="805.00" x2="739.00" y2="835.00" stroke="#3a3ad0" stroke-width="0.9" />
<rect x="354.00" y="940.00" width="7.00" height="36.00" fill="url(#hatchO)" stroke="none" stroke-width="0" />
<rect x="732.00" y="940.00" width="7.00" height="36.00" fill="url(#hatchB)" stroke="none" stroke-width="0" />
<line x1="732.00" y1="940.00" x2="732.00" y2="976.00" stroke="#3a3ad0" stroke-width="0.9" />
<line x1="739.00" y1="940.00" x2="739.00" y2="976.00" stroke="#3a3ad0" stroke-width="0.9" />
<rect x="456.00" y="791.00" width="5.00" height="39.00" fill="url(#hatchO)" stroke="none" stroke-width="0" />
<rect x="632.00" y="791.00" width="5.00" height="39.00" fill="url(#hatchO)" stroke="none" stroke-width="0" />
<rect x="263.20" y="134.00" width="6.30" height="50.00" fill="url(#hatchO)" stroke="none" stroke-width="0" />
<rect x="823.50" y="134.00" width="6.30" height="50.00" fill="url(#hatchO)" stroke="none" stroke-width="0" />
<rect x="369.50" y="134.00" width="7.00" height="33.70" fill="url(#hatchO)" stroke="none" stroke-width="0" />
<rect x="716.50" y="134.00" width="7.00" height="33.70" fill="url(#hatchO)" stroke="none" stroke-width="0" />
<rect x="369.50" y="271.00" width="7.00" height="34.00" fill="url(#hatchB)" stroke="none" stroke-width="0" />
<rect x="716.50" y="271.00" width="7.00" height="34.00" fill="url(#hatchB)" stroke="none" stroke-width="0" />
<line x1="716.50" y1="271.00" x2="716.50" y2="305.00" stroke="#3a3ad0" stroke-width="0.9" />
<line x1="723.50" y1="271.00" x2="723.50" y2="305.00" stroke="#3a3ad0" stroke-width="0.9" />
<rect x="216.00" y="737.50" width="4.00" height="22.50" fill="url(#hatchO)" stroke="none" stroke-width="0" />
<rect x="873.00" y="737.50" width="4.00" height="22.50" fill="url(#hatchO)" stroke="none" stroke-width="0" />
<rect x="249.60" y="805.00" width="4.30" height="30.00" fill="url(#hatchO)" stroke="none" stroke-width="0" />
<rect x="839.10" y="805.00" width="4.30" height="30.00" fill="url(#hatchO)" stroke="none" stroke-width="0" />
<rect x="249.60" y="900.00" width="4.30" height="31.00" fill="url(#hatchO)" stroke="none" stroke-width="0" />
<rect x="839.10" y="900.00" width="4.30" height="31.00" fill="url(#hatchO)" stroke="none" stroke-width="0" />
<rect x="542.50" y="672.00" width="7.50" height="78.00" fill="url(#hatchB)" stroke="none" stroke-width="0" />
<rect x="135.00" y="535.50" width="233.00" height="6.50" fill="url(#hatchO)" stroke="#e0b040" stroke-width="0.8" />
<rect x="725.00" y="535.50" width="233.00" height="6.50" fill="url(#hatchB)" stroke="none" stroke-width="0" />
<line x1="725.00" y1="535.50" x2="958.00" y2="535.50" stroke="#3a3ad0" stroke-width="1" />
<line x1="725.00" y1="542.00" x2="958.00" y2="542.00" stroke="#3a3ad0" stroke-width="1" />
<line x1="542.50" y1="672.00" x2="542.50" y2="926.00" stroke="#3a3ad0" stroke-width="1" />
<line x1="550.00" y1="672.00" x2="550.00" y2="926.00" stroke="#3a3ad0" stroke-width="1" />
<rect x="405.40" y="273.50" width="52.60" height="17.90" fill="#d2b088" stroke="none" stroke-width="0" />
<rect x="635.00" y="273.50" width="52.60" height="17.90" fill="#d2b088" stroke="none" stroke-width="0" />
<rect x="259.50" y="348.00" width="19.00" height="68.60" fill="#d2b088" stroke="none" stroke-width="0" />
<rect x="814.50" y="348.00" width="19.00" height="68.60" fill="#d2b088" stroke="none" stroke-width="0" />
<rect x="261.50" y="482.00" width="18.00" height="53.50" fill="#d2b088" stroke="none" stroke-width="0" />
<rect x="813.50" y="482.00" width="18.00" height="53.50" fill="#d2b088" stroke="none" stroke-width="0" />
<rect x="261.50" y="542.00" width="18.00" height="55.00" fill="#d2b088" stroke="none" stroke-width="0" />
<rect x="813.50" y="542.00" width="18.00" height="55.00" fill="#d2b088" stroke="none" stroke-width="0" />
<rect x="297.00" y="679.00" width="12.00" height="55.00" fill="#d2b088" stroke="none" stroke-width="0" />
<rect x="784.00" y="679.00" width="12.00" height="55.00" fill="#d2b088" stroke="none" stroke-width="0" />
<rect x="491.00" y="774.00" width="51.50" height="13.50" fill="#d2b088" stroke="none" stroke-width="0" />
<rect x="550.50" y="774.00" width="51.50" height="13.50" fill="#d2b088" stroke="none" stroke-width="0" />
<rect x="140.80" y="844.60" width="40.80" height="12.00" fill="#d2b088" stroke="none" stroke-width="0" />
<rect x="911.40" y="844.60" width="40.80" height="12.00" fill="#d2b088" stroke="none" stroke-width="0" />
<rect x="409.00" y="277.00" width="29.00" height="12.00" fill="#ffffff" stroke="none" stroke-width="0" />
<rect x="655.00" y="277.00" width="29.00" height="12.00" fill="#ffffff" stroke="none" stroke-width="0" />
<rect x="440.00" y="277.00" width="15.00" height="12.00" fill="#ffffff" stroke="none" stroke-width="0" />
<rect x="638.00" y="277.00" width="15.00" height="12.00" fill="#ffffff" stroke="none" stroke-width="0" />
<rect x="263.00" y="351.50" width="12.50" height="43.50" fill="#ffffff" stroke="none" stroke-width="0" />
<rect x="817.50" y="351.50" width="12.50" height="43.50" fill="#ffffff" stroke="none" stroke-width="0" />
<rect x="263.00" y="398.00" width="12.50" height="7.00" fill="#ffffff" stroke="none" stroke-width="0" />
<rect x="817.50" y="398.00" width="12.50" height="7.00" fill="#ffffff" stroke="none" stroke-width="0" />
<rect x="263.00" y="407.50" width="12.50" height="6.00" fill="#ffffff" stroke="none" stroke-width="0" />
<rect x="817.50" y="407.50" width="12.50" height="6.00" fill="#ffffff" stroke="none" stroke-width="0" />
<rect x="264.50" y="485.50" width="12.00" height="26.50" fill="#ffffff" stroke="none" stroke-width="0" />
<rect x="816.50" y="485.50" width="12.00" height="26.50" fill="#ffffff" stroke="none" stroke-width="0" />
<rect x="264.50" y="520.00" width="12.00" height="12.00" fill="#ffffff" stroke="none" stroke-width="0" />
<rect x="816.50" y="520.00" width="12.00" height="12.00" fill="#ffffff" stroke="none" stroke-width="0" />
<rect x="264.50" y="545.00" width="12.00" height="15.00" fill="#ffffff" stroke="none" stroke-width="0" />
<rect x="816.50" y="545.00" width="12.00" height="15.00" fill="#ffffff" stroke="none" stroke-width="0" />
<rect x="264.50" y="570.00" width="12.00" height="24.00" fill="#ffffff" stroke="none" stroke-width="0" />
<rect x="816.50" y="570.00" width="12.00" height="24.00" fill="#ffffff" stroke="none" stroke-width="0" />
<rect x="299.50" y="682.00" width="7.50" height="15.00" fill="#ffffff" stroke="none" stroke-width="0" />
<rect x="786.00" y="682.00" width="7.50" height="15.00" fill="#ffffff" stroke="none" stroke-width="0" />
<rect x="299.50" y="700.00" width="7.50" height="12.00" fill="#ffffff" stroke="none" stroke-width="0" />
<rect x="786.00" y="700.00" width="7.50" height="12.00" fill="#ffffff" stroke="none" stroke-width="0" />
<rect x="299.50" y="715.00" width="7.50" height="16.00" fill="#ffffff" stroke="none" stroke-width="0" />
<rect x="786.00" y="715.00" width="7.50" height="16.00" fill="#ffffff" stroke="none" stroke-width="0" />
<rect x="494.00" y="777.00" width="26.00" height="8.00" fill="#ffffff" stroke="none" stroke-width="0" />
<rect x="573.00" y="777.00" width="26.00" height="8.00" fill="#ffffff" stroke="none" stroke-width="0" />
<rect x="523.00" y="777.00" width="17.00" height="8.00" fill="#ffffff" stroke="none" stroke-width="0" />
<rect x="553.00" y="777.00" width="17.00" height="8.00" fill="#ffffff" stroke="none" stroke-width="0" />
<rect x="143.00" y="847.00" width="4.00" height="7.00" fill="#ffffff" stroke="none" stroke-width="0" />
<rect x="946.00" y="847.00" width="4.00" height="7.00" fill="#ffffff" stroke="none" stroke-width="0" />
<rect x="150.00" y="847.00" width="29.00" height="7.00" fill="#ffffff" stroke="none" stroke-width="0" />
<rect x="914.00" y="847.00" width="29.00" height="7.00" fill="#ffffff" stroke="none" stroke-width="0" />
<rect x="408.50" y="291.50" width="49.50" height="50.00" fill="none" stroke="#e8b830" stroke-width="1.6" />
<rect x="635.00" y="291.50" width="49.50" height="50.00" fill="none" stroke="#e8b830" stroke-width="1.6" />
<rect x="278.00" y="354.00" width="89.50" height="58.00" fill="none" stroke="#e8b830" stroke-width="1.6" />
<rect x="725.50" y="354.00" width="89.50" height="58.00" fill="none" stroke="#e8b830" stroke-width="1.6" />
<rect x="280.50" y="417.50" width="87.00" height="63.50" fill="none" stroke="#e8b830" stroke-width="1.6" />
<rect x="725.50" y="417.50" width="87.00" height="63.50" fill="none" stroke="#e8b830" stroke-width="1.6" />
<rect x="280.50" y="483.50" width="86.50" height="52.00" fill="none" stroke="#e8b830" stroke-width="1.6" />
<rect x="726.00" y="483.50" width="86.50" height="52.00" fill="none" stroke="#e8b830" stroke-width="1.6" />
<rect x="279.50" y="542.00" width="88.50" height="53.50" fill="none" stroke="#e8b830" stroke-width="1.6" />
<rect x="725.00" y="542.00" width="88.50" height="53.50" fill="none" stroke="#e8b830" stroke-width="1.6" />
<rect x="279.50" y="597.00" width="88.50" height="76.00" fill="none" stroke="#e8b830" stroke-width="1.6" />
<rect x="725.00" y="597.00" width="88.50" height="76.00" fill="none" stroke="#e8b830" stroke-width="1.6" />
<rect x="265.50" y="678.50" width="31.00" height="56.00" fill="none" stroke="#e8b830" stroke-width="1.6" />
<rect x="796.50" y="678.50" width="31.00" height="56.00" fill="none" stroke="#e8b830" stroke-width="1.6" />
<rect x="310.50" y="678.50" width="57.50" height="56.00" fill="none" stroke="#e8b830" stroke-width="1.6" />
<rect x="725.00" y="678.50" width="57.50" height="56.00" fill="none" stroke="#e8b830" stroke-width="1.6" />
<rect x="425.50" y="672.50" width="62.50" height="117.00" fill="none" stroke="#e8b830" stroke-width="1.6" />
<rect x="605.00" y="672.50" width="62.50" height="117.00" fill="none" stroke="#e8b830" stroke-width="1.6" />
<rect x="490.50" y="672.50" width="52.50" height="102.00" fill="none" stroke="#e8b830" stroke-width="1.6" />
<rect x="550.00" y="672.50" width="52.50" height="102.00" fill="none" stroke="#e8b830" stroke-width="1.6" />
<line x1="438.00" y1="141.00" x2="438.00" y2="273.50" stroke="#2ec79a" stroke-width="1" />
<line x1="655.00" y1="141.00" x2="655.00" y2="273.50" stroke="#2ec79a" stroke-width="1" />
<rect x="439.00" y="192.50" width="18.50" height="18.50" rx="0" fill="none" stroke="#2ec79a" stroke-width="1.1"/>
<rect x="635.50" y="192.50" width="18.50" height="18.50" rx="0" fill="none" stroke="#2ec79a" stroke-width="1.1"/>
<circle cx="443.62" cy="197.12" r="3.7" fill="none" stroke="#2ec79a" stroke-width="0.9"/>
<circle cx="649.38" cy="197.12" r="3.7" fill="none" stroke="#2ec79a" stroke-width="0.9"/>
<circle cx="443.62" cy="206.38" r="3.7" fill="none" stroke="#2ec79a" stroke-width="0.9"/>
<circle cx="649.38" cy="206.38" r="3.7" fill="none" stroke="#2ec79a" stroke-width="0.9"/>
<circle cx="452.88" cy="197.12" r="3.7" fill="none" stroke="#2ec79a" stroke-width="0.9"/>
<circle cx="640.12" cy="197.12" r="3.7" fill="none" stroke="#2ec79a" stroke-width="0.9"/>
<circle cx="452.88" cy="206.38" r="3.7" fill="none" stroke="#2ec79a" stroke-width="0.9"/>
<circle cx="640.12" cy="206.38" r="3.7" fill="none" stroke="#2ec79a" stroke-width="0.9"/>
<rect x="439.00" y="245.00" width="18.50" height="17.50" rx="0" fill="none" stroke="#2ec79a" stroke-width="1.1"/>
<rect x="635.50" y="245.00" width="18.50" height="17.50" rx="0" fill="none" stroke="#2ec79a" stroke-width="1.1"/>
<rect x="441.00" y="247.00" width="14.00" height="5.00" rx="0" fill="none" stroke="#2ec79a" stroke-width="1.1"/>
<rect x="638.00" y="247.00" width="14.00" height="5.00" rx="0" fill="none" stroke="#2ec79a" stroke-width="1.1"/>
<rect x="447.00" y="297.00" width="9.70" height="17.00" rx="2" fill="none" stroke="#2ec79a" stroke-width="1.1"/>
<rect x="636.30" y="297.00" width="9.70" height="17.00" rx="2" fill="none" stroke="#2ec79a" stroke-width="1.1"/>
<circle cx="452.00" cy="305.50" r="3.5" fill="none" stroke="#2ec79a" stroke-width="1.1"/>
<circle cx="641.00" cy="305.50" r="3.5" fill="none" stroke="#2ec79a" stroke-width="1.1"/>
<circle cx="441.00" cy="328.00" r="5" fill="none" stroke="#2ec79a" stroke-width="1.1"/>
<circle cx="652.00" cy="328.00" r="5" fill="none" stroke="#2ec79a" stroke-width="1.1"/>
<rect x="449.00" y="320.00" width="7.70" height="17.00" rx="0" fill="none" stroke="#2ec79a" stroke-width="1.1"/>
<rect x="636.30" y="320.00" width="7.70" height="17.00" rx="0" fill="none" stroke="#2ec79a" stroke-width="1.1"/>
<rect x="346.00" y="355.50" width="20.00" height="53.50" rx="5" fill="none" stroke="#2ec79a" stroke-width="1.1"/>
<rect x="727.00" y="355.50" width="20.00" height="53.50" rx="5" fill="none" stroke="#2ec79a" stroke-width="1.1"/>
<rect x="349.00" y="358.00" width="14.00" height="48.00" rx="5" fill="none" stroke="#2ec79a" stroke-width="1.1"/>
<rect x="730.00" y="358.00" width="14.00" height="48.00" rx="5" fill="none" stroke="#2ec79a" stroke-width="1.1"/>
<rect x="280.60" y="356.60" width="20.00" height="9.40" rx="0" fill="none" stroke="#2ec79a" stroke-width="1.1"/>
<rect x="792.40" y="356.60" width="20.00" height="9.40" rx="0" fill="none" stroke="#2ec79a" stroke-width="1.1"/>
<circle cx="294.00" cy="393.00" r="5.5" fill="none" stroke="#2ec79a" stroke-width="1.1"/>
<circle cx="799.00" cy="393.00" r="5.5" fill="none" stroke="#2ec79a" stroke-width="1.1"/>
<rect x="286.00" y="401.00" width="15.60" height="8.00" rx="0" fill="none" stroke="#2ec79a" stroke-width="1.1"/>
<rect x="791.40" y="401.00" width="15.60" height="8.00" rx="0" fill="none" stroke="#2ec79a" stroke-width="1.1"/>
<rect x="325.00" y="398.70" width="17.70" height="10.30" rx="0" fill="none" stroke="#2ec79a" stroke-width="1.1"/>
<rect x="750.30" y="398.70" width="17.70" height="10.30" rx="0" fill="none" stroke="#2ec79a" stroke-width="1.1"/>
<rect x="346.00" y="486.00" width="19.70" height="48.00" rx="5" fill="none" stroke="#2ec79a" stroke-width="1.1"/>
<rect x="727.30" y="486.00" width="19.70" height="48.00" rx="5" fill="none" stroke="#2ec79a" stroke-width="1.1"/>
<circle cx="298.00" cy="515.00" r="5.5" fill="none" stroke="#2ec79a" stroke-width="1.1"/>
<circle cx="795.00" cy="515.00" r="5.5" fill="none" stroke="#2ec79a" stroke-width="1.1"/>
<rect x="292.00" y="522.00" width="13.00" height="10.00" rx="0" fill="none" stroke="#2ec79a" stroke-width="1.1"/>
<rect x="788.00" y="522.00" width="13.00" height="10.00" rx="0" fill="none" stroke="#2ec79a" stroke-width="1.1"/>
<line x1="135.00" y1="514.00" x2="261.00" y2="514.00" stroke="#33c4a4" stroke-width="2" />
<line x1="958.00" y1="514.00" x2="832.00" y2="514.00" stroke="#33c4a4" stroke-width="2" />
<rect x="174.00" y="514.00" width="20.60" height="20.80" rx="0" fill="#3cc0a8" stroke="#2ec79a" stroke-width="1.1"/>
<rect x="898.40" y="514.00" width="20.60" height="20.80" rx="0" fill="#3cc0a8" stroke="#2ec79a" stroke-width="1.1"/>
<rect x="240.00" y="514.00" width="19.80" height="20.80" rx="0" fill="#3cc0a8" stroke="#2ec79a" stroke-width="1.1"/>
<rect x="833.20" y="514.00" width="19.80" height="20.80" rx="0" fill="#3cc0a8" stroke="#2ec79a" stroke-width="1.1"/>
<line x1="135.00" y1="562.50" x2="261.00" y2="562.50" stroke="#33c4a4" stroke-width="1.5" />
<line x1="958.00" y1="562.50" x2="832.00" y2="562.50" stroke="#33c4a4" stroke-width="1.5" />
<rect x="175.00" y="543.50" width="19.60" height="18.50" rx="0" fill="none" stroke="#2ec79a" stroke-width="1.1"/>
<rect x="898.40" y="543.50" width="19.60" height="18.50" rx="0" fill="none" stroke="#2ec79a" stroke-width="1.1"/>
<circle cx="179.90" cy="548.12" r="3.7" fill="none" stroke="#2ec79a" stroke-width="0.9"/>
<circle cx="913.10" cy="548.12" r="3.7" fill="none" stroke="#2ec79a" stroke-width="0.9"/>
<circle cx="179.90" cy="557.38" r="3.7" fill="none" stroke="#2ec79a" stroke-width="0.9"/>
<circle cx="913.10" cy="557.38" r="3.7" fill="none" stroke="#2ec79a" stroke-width="0.9"/>
<circle cx="189.70" cy="548.12" r="3.7" fill="none" stroke="#2ec79a" stroke-width="0.9"/>
<circle cx="903.30" cy="548.12" r="3.7" fill="none" stroke="#2ec79a" stroke-width="0.9"/>
<circle cx="189.70" cy="557.38" r="3.7" fill="none" stroke="#2ec79a" stroke-width="0.9"/>
<circle cx="903.30" cy="557.38" r="3.7" fill="none" stroke="#2ec79a" stroke-width="0.9"/>
<rect x="240.00" y="543.50" width="19.00" height="18.50" rx="0" fill="none" stroke="#2ec79a" stroke-width="1.1"/>
<rect x="834.00" y="543.50" width="19.00" height="18.50" rx="0" fill="none" stroke="#2ec79a" stroke-width="1.1"/>
<rect x="346.00" y="545.00" width="20.00" height="48.00" rx="5" fill="none" stroke="#2ec79a" stroke-width="1.1"/>
<rect x="727.00" y="545.00" width="20.00" height="48.00" rx="5" fill="none" stroke="#2ec79a" stroke-width="1.1"/>
<circle cx="296.00" cy="553.00" r="5.5" fill="none" stroke="#2ec79a" stroke-width="1.1"/>
<circle cx="797.00" cy="553.00" r="5.5" fill="none" stroke="#2ec79a" stroke-width="1.1"/>
<rect x="290.00" y="545.00" width="14.00" height="4.00" rx="0" fill="none" stroke="#2ec79a" stroke-width="1.1"/>
<rect x="789.00" y="545.00" width="14.00" height="4.00" rx="0" fill="none" stroke="#2ec79a" stroke-width="1.1"/>
<rect x="282.00" y="582.00" width="18.00" height="11.00" rx="0" fill="none" stroke="#2ec79a" stroke-width="1.1"/>
<rect x="793.00" y="582.00" width="18.00" height="11.00" rx="0" fill="none" stroke="#2ec79a" stroke-width="1.1"/>
<rect x="270.00" y="681.00" width="20.00" height="5.00" rx="0" fill="none" stroke="#2ec79a" stroke-width="1.1"/>
<rect x="803.00" y="681.00" width="20.00" height="5.00" rx="0" fill="none" stroke="#2ec79a" stroke-width="1.1"/>
<circle cx="280.00" cy="697.00" r="6" fill="none" stroke="#2ec79a" stroke-width="1.1"/>
<circle cx="813.00" cy="697.00" r="6" fill="none" stroke="#2ec79a" stroke-width="1.1"/>
<rect x="272.00" y="708.00" width="16.00" height="10.00" rx="0" fill="none" stroke="#2ec79a" stroke-width="1.1"/>
<rect x="805.00" y="708.00" width="16.00" height="10.00" rx="0" fill="none" stroke="#2ec79a" stroke-width="1.1"/>
<rect x="312.50" y="680.00" width="54.50" height="12.50" rx="4" fill="none" stroke="#2ec79a" stroke-width="1.1"/>
<rect x="726.00" y="680.00" width="54.50" height="12.50" rx="4" fill="none" stroke="#2ec79a" stroke-width="1.1"/>
<rect x="312.50" y="700.00" width="10.00" height="20.00" rx="0" fill="none" stroke="#2ec79a" stroke-width="1.1"/>
<rect x="770.50" y="700.00" width="10.00" height="20.00" rx="0" fill="none" stroke="#2ec79a" stroke-width="1.1"/>
<circle cx="318.00" cy="710.00" r="3.5" fill="none" stroke="#2ec79a" stroke-width="1.1"/>
<circle cx="775.00" cy="710.00" r="3.5" fill="none" stroke="#2ec79a" stroke-width="1.1"/>
<line x1="162.00" y1="857.00" x2="162.00" y2="930.00" stroke="#2ec79a" stroke-width="1" />
<line x1="931.00" y1="857.00" x2="931.00" y2="930.00" stroke="#2ec79a" stroke-width="1" />
<rect x="141.00" y="860.00" width="19.00" height="20.00" rx="0" fill="none" stroke="#2ec79a" stroke-width="1.1"/>
<rect x="933.00" y="860.00" width="19.00" height="20.00" rx="0" fill="none" stroke="#2ec79a" stroke-width="1.1"/>
<rect x="141.00" y="886.00" width="19.00" height="24.00" rx="0" fill="none" stroke="#2ec79a" stroke-width="1.1"/>
<rect x="933.00" y="886.00" width="19.00" height="24.00" rx="0" fill="none" stroke="#2ec79a" stroke-width="1.1"/>
<circle cx="145.75" cy="892.00" r="3.8000000000000003" fill="none" stroke="#2ec79a" stroke-width="0.9"/>
<circle cx="947.25" cy="892.00" r="3.8000000000000003" fill="none" stroke="#2ec79a" stroke-width="0.9"/>
<circle cx="145.75" cy="904.00" r="3.8000000000000003" fill="none" stroke="#2ec79a" stroke-width="0.9"/>
<circle cx="947.25" cy="904.00" r="3.8000000000000003" fill="none" stroke="#2ec79a" stroke-width="0.9"/>
<circle cx="155.25" cy="892.00" r="3.8000000000000003" fill="none" stroke="#2ec79a" stroke-width="0.9"/>
<circle cx="937.75" cy="892.00" r="3.8000000000000003" fill="none" stroke="#2ec79a" stroke-width="0.9"/>
<circle cx="155.25" cy="904.00" r="3.8000000000000003" fill="none" stroke="#2ec79a" stroke-width="0.9"/>
<circle cx="937.75" cy="904.00" r="3.8000000000000003" fill="none" stroke="#2ec79a" stroke-width="0.9"/>
<rect x="492.50" y="674.00" width="48.50" height="21.00" rx="5" fill="none" stroke="#2ec79a" stroke-width="1.1"/>
<rect x="552.00" y="674.00" width="48.50" height="21.00" rx="5" fill="none" stroke="#2ec79a" stroke-width="1.1"/>
<rect x="495.00" y="676.00" width="43.00" height="17.00" rx="5" fill="none" stroke="#2ec79a" stroke-width="1.1"/>
<rect x="555.00" y="676.00" width="43.00" height="17.00" rx="5" fill="none" stroke="#2ec79a" stroke-width="1.1"/>
<rect x="531.00" y="709.00" width="10.00" height="17.00" rx="0" fill="none" stroke="#2ec79a" stroke-width="1.1"/>
<rect x="552.00" y="709.00" width="10.00" height="17.00" rx="0" fill="none" stroke="#2ec79a" stroke-width="1.1"/>
<circle cx="526.00" cy="758.00" r="6" fill="none" stroke="#2ec79a" stroke-width="1.1"/>
<circle cx="567.00" cy="758.00" r="6" fill="none" stroke="#2ec79a" stroke-width="1.1"/>
<rect x="536.00" y="752.00" width="5.00" height="12.00" rx="0" fill="none" stroke="#2ec79a" stroke-width="1.1"/>
<rect x="552.00" y="752.00" width="5.00" height="12.00" rx="0" fill="none" stroke="#2ec79a" stroke-width="1.1"/>
<line x1="522.50" y1="791.00" x2="522.50" y2="926.00" stroke="#2ec79a" stroke-width="1" />
<line x1="570.50" y1="791.00" x2="570.50" y2="926.00" stroke="#2ec79a" stroke-width="1" />
<rect x="522.00" y="806.00" width="19.00" height="18.00" rx="0" fill="none" stroke="#2ec79a" stroke-width="1.1"/>
<rect x="552.00" y="806.00" width="19.00" height="18.00" rx="0" fill="none" stroke="#2ec79a" stroke-width="1.1"/>
<rect x="522.00" y="872.00" width="19.00" height="19.00" rx="0" fill="none" stroke="#2ec79a" stroke-width="1.1"/>
<rect x="552.00" y="872.00" width="19.00" height="19.00" rx="0" fill="none" stroke="#2ec79a" stroke-width="1.1"/>
<circle cx="526.75" cy="876.75" r="3.8000000000000003" fill="none" stroke="#2ec79a" stroke-width="0.9"/>
<circle cx="566.25" cy="876.75" r="3.8000000000000003" fill="none" stroke="#2ec79a" stroke-width="0.9"/>
<circle cx="526.75" cy="886.25" r="3.8000000000000003" fill="none" stroke="#2ec79a" stroke-width="0.9"/>
<circle cx="566.25" cy="886.25" r="3.8000000000000003" fill="none" stroke="#2ec79a" stroke-width="0.9"/>
<circle cx="536.25" cy="876.75" r="3.8000000000000003" fill="none" stroke="#2ec79a" stroke-width="0.9"/>
<circle cx="556.75" cy="876.75" r="3.8000000000000003" fill="none" stroke="#2ec79a" stroke-width="0.9"/>
<circle cx="536.25" cy="886.25" r="3.8000000000000003" fill="none" stroke="#2ec79a" stroke-width="0.9"/>
<circle cx="556.75" cy="886.25" r="3.8000000000000003" fill="none" stroke="#2ec79a" stroke-width="0.9"/>
<path d="M201.00,303.00 L225.00,289.00" stroke="#1c5a1c" stroke-width="2" fill="none"/>
<path d="M225.00,289.00 Q224.90,292.90 229.00,304.00" stroke="#1c5a1c" stroke-width="1" fill="none"/>
<path d="M892.00,303.00 L868.00,289.00" stroke="#1c5a1c" stroke-width="2" fill="none"/>
<path d="M868.00,289.00 Q863.90,300.10 864.00,304.00" stroke="#1c5a1c" stroke-width="1" fill="none"/>
<path d="M304.00,303.00 L327.00,290.00" stroke="#1c5a1c" stroke-width="2" fill="none"/>
<path d="M327.00,290.00 Q327.55,293.55 332.00,304.00" stroke="#1c5a1c" stroke-width="1" fill="none"/>
<path d="M789.00,303.00 L766.00,290.00" stroke="#1c5a1c" stroke-width="2" fill="none"/>
<path d="M766.00,290.00 Q761.55,300.45 761.00,304.00" stroke="#1c5a1c" stroke-width="1" fill="none"/>
<path d="M377.00,291.00 L398.00,280.00" stroke="#1c5a1c" stroke-width="2" fill="none"/>
<path d="M398.00,280.00 Q398.35,282.35 402.00,291.00" stroke="#1c5a1c" stroke-width="1" fill="none"/>
<path d="M716.00,291.00 L695.00,280.00" stroke="#1c5a1c" stroke-width="2" fill="none"/>
<path d="M695.00,280.00 Q691.35,288.65 691.00,291.00" stroke="#1c5a1c" stroke-width="1" fill="none"/>
<path d="M160.00,338.00 L146.00,312.00" stroke="#1c5a1c" stroke-width="2" fill="none"/>
<path d="M146.00,312.00 Q148.60,312.60 159.00,309.00" stroke="#1c5a1c" stroke-width="1" fill="none"/>
<path d="M933.00,338.00 L947.00,312.00" stroke="#1c5a1c" stroke-width="2" fill="none"/>
<path d="M947.00,312.00 Q936.60,308.40 934.00,309.00" stroke="#1c5a1c" stroke-width="1" fill="none"/>
<path d="M405.50,300.00 L395.50,317.50" stroke="#1c5a1c" stroke-width="2" fill="none"/>
<path d="M395.50,317.50 Q403.12,320.25 405.50,320.00" stroke="#1c5a1c" stroke-width="1" fill="none"/>
<path d="M687.50,300.00 L697.50,317.50" stroke="#1c5a1c" stroke-width="2" fill="none"/>
<path d="M697.50,317.50 Q695.12,317.25 687.50,320.00" stroke="#1c5a1c" stroke-width="1" fill="none"/>
<path d="M327.20,352.00 L309.20,341.80" stroke="#1c5a1c" stroke-width="2" fill="none"/>
<path d="M309.20,341.80 Q306.42,349.60 306.70,352.00" stroke="#1c5a1c" stroke-width="1" fill="none"/>
<path d="M765.80,352.00 L783.80,341.80" stroke="#1c5a1c" stroke-width="2" fill="none"/>
<path d="M783.80,341.80 Q783.52,344.20 786.30,352.00" stroke="#1c5a1c" stroke-width="1" fill="none"/>
<path d="M279.50,447.00 L266.00,424.00" stroke="#1c5a1c" stroke-width="2" fill="none"/>
<path d="M266.00,424.00 Q269.30,424.52 279.50,421.00" stroke="#1c5a1c" stroke-width="1" fill="none"/>
<path d="M813.50,447.00 L827.00,424.00" stroke="#1c5a1c" stroke-width="2" fill="none"/>
<path d="M827.00,424.00 Q816.80,420.48 813.50,421.00" stroke="#1c5a1c" stroke-width="1" fill="none"/>
<path d="M279.50,452.50 L266.00,474.00" stroke="#1c5a1c" stroke-width="2" fill="none"/>
<path d="M266.00,474.00 Q275.98,478.77 279.50,479.50" stroke="#1c5a1c" stroke-width="1" fill="none"/>
<path d="M813.50,452.50 L827.00,474.00" stroke="#1c5a1c" stroke-width="2" fill="none"/>
<path d="M827.00,474.00 Q823.48,474.73 813.50,479.50" stroke="#1c5a1c" stroke-width="1" fill="none"/>
<path d="M326.75,481.75 L308.75,471.00" stroke="#1c5a1c" stroke-width="2" fill="none"/>
<path d="M308.75,471.00 Q306.01,479.45 306.50,482.50" stroke="#1c5a1c" stroke-width="1" fill="none"/>
<path d="M766.25,481.75 L784.25,471.00" stroke="#1c5a1c" stroke-width="2" fill="none"/>
<path d="M784.25,471.00 Q783.76,474.05 786.50,482.50" stroke="#1c5a1c" stroke-width="1" fill="none"/>
<path d="M370.60,441.70 L384.30,463.70" stroke="#1c5a1c" stroke-width="2" fill="none"/>
<path d="M384.30,463.70 Q380.75,464.30 370.60,469.00" stroke="#1c5a1c" stroke-width="1" fill="none"/>
<path d="M722.40,441.70 L708.70,463.70" stroke="#1c5a1c" stroke-width="2" fill="none"/>
<path d="M708.70,463.70 Q718.85,468.41 722.40,469.00" stroke="#1c5a1c" stroke-width="1" fill="none"/>
<path d="M279.50,626.00 L266.00,605.00" stroke="#1c5a1c" stroke-width="2" fill="none"/>
<path d="M266.00,605.00 Q269.60,604.52 279.50,600.00" stroke="#1c5a1c" stroke-width="1" fill="none"/>
<path d="M813.50,626.00 L827.00,605.00" stroke="#1c5a1c" stroke-width="2" fill="none"/>
<path d="M827.00,605.00 Q817.10,600.48 813.50,600.00" stroke="#1c5a1c" stroke-width="1" fill="none"/>
<path d="M279.50,632.00 L266.00,655.00" stroke="#1c5a1c" stroke-width="2" fill="none"/>
<path d="M266.00,655.00 Q276.20,660.52 279.50,662.00" stroke="#1c5a1c" stroke-width="1" fill="none"/>
<path d="M813.50,632.00 L827.00,655.00" stroke="#1c5a1c" stroke-width="2" fill="none"/>
<path d="M827.00,655.00 Q823.70,656.48 813.50,662.00" stroke="#1c5a1c" stroke-width="1" fill="none"/>
<path d="M324.80,599.00 L308.00,607.40" stroke="#1c5a1c" stroke-width="2" fill="none"/>
<path d="M308.00,607.40 Q308.51,606.02 306.50,599.60" stroke="#1c5a1c" stroke-width="1" fill="none"/>
<path d="M768.20,599.00 L785.00,607.40" stroke="#1c5a1c" stroke-width="2" fill="none"/>
<path d="M785.00,607.40 Q787.01,600.98 786.50,599.60" stroke="#1c5a1c" stroke-width="1" fill="none"/>
<path d="M370.00,643.75 L385.00,618.75" stroke="#1c5a1c" stroke-width="2" fill="none"/>
<path d="M385.00,618.75 Q373.75,614.62 370.00,615.00" stroke="#1c5a1c" stroke-width="1" fill="none"/>
<path d="M723.00,643.75 L708.00,618.75" stroke="#1c5a1c" stroke-width="2" fill="none"/>
<path d="M708.00,618.75 Q711.75,619.12 723.00,615.00" stroke="#1c5a1c" stroke-width="1" fill="none"/>
<path d="M380.00,671.00 L407.50,656.00" stroke="#1c5a1c" stroke-width="2" fill="none"/>
<path d="M407.50,656.00 Q407.00,658.88 411.00,670.00" stroke="#1c5a1c" stroke-width="1" fill="none"/>
<path d="M713.00,671.00 L685.50,656.00" stroke="#1c5a1c" stroke-width="2" fill="none"/>
<path d="M685.50,656.00 Q681.50,667.12 682.00,670.00" stroke="#1c5a1c" stroke-width="1" fill="none"/>
<path d="M448.75,670.00 L471.00,656.00" stroke="#1c5a1c" stroke-width="2" fill="none"/>
<path d="M471.00,656.00 Q471.40,660.16 476.00,671.00" stroke="#1c5a1c" stroke-width="1" fill="none"/>
<path d="M644.25,670.00 L622.00,656.00" stroke="#1c5a1c" stroke-width="2" fill="none"/>
<path d="M622.00,656.00 Q617.40,666.84 617.00,671.00" stroke="#1c5a1c" stroke-width="1" fill="none"/>
<path d="M272.50,736.00 L290.00,744.80" stroke="#1c5a1c" stroke-width="2" fill="none"/>
<path d="M290.00,744.80 Q291.32,736.77 290.00,734.00" stroke="#1c5a1c" stroke-width="1" fill="none"/>
<path d="M820.50,736.00 L803.00,744.80" stroke="#1c5a1c" stroke-width="2" fill="none"/>
<path d="M803.00,744.80 Q804.32,742.02 803.00,734.00" stroke="#1c5a1c" stroke-width="1" fill="none"/>
<path d="M327.50,736.00 L345.00,746.00" stroke="#1c5a1c" stroke-width="2" fill="none"/>
<path d="M345.00,746.00 Q347.00,737.88 346.00,735.00" stroke="#1c5a1c" stroke-width="1" fill="none"/>
<path d="M765.50,736.00 L748.00,746.00" stroke="#1c5a1c" stroke-width="2" fill="none"/>
<path d="M748.00,746.00 Q749.00,743.12 747.00,735.00" stroke="#1c5a1c" stroke-width="1" fill="none"/>
<path d="M219.80,748.00 L231.90,771.10" stroke="#1c5a1c" stroke-width="2" fill="none"/>
<path d="M231.90,771.10 Q230.41,770.93 222.00,774.40" stroke="#1c5a1c" stroke-width="1" fill="none"/>
<path d="M873.20,748.00 L861.10,771.10" stroke="#1c5a1c" stroke-width="2" fill="none"/>
<path d="M861.10,771.10 Q869.51,774.57 871.00,774.40" stroke="#1c5a1c" stroke-width="1" fill="none"/>
<path d="M247.00,841.40 L226.40,852.40" stroke="#1c5a1c" stroke-width="2" fill="none"/>
<path d="M226.40,852.40 Q225.85,848.79 222.00,839.00" stroke="#1c5a1c" stroke-width="1" fill="none"/>
<path d="M846.00,841.40 L866.60,852.40" stroke="#1c5a1c" stroke-width="2" fill="none"/>
<path d="M866.60,852.40 Q870.45,842.61 871.00,839.00" stroke="#1c5a1c" stroke-width="1" fill="none"/>
<path d="M291.00,801.00 L312.00,790.00" stroke="#1c5a1c" stroke-width="2" fill="none"/>
<path d="M312.00,790.00 Q312.55,793.35 316.40,803.00" stroke="#1c5a1c" stroke-width="1" fill="none"/>
<path d="M802.00,801.00 L781.00,790.00" stroke="#1c5a1c" stroke-width="2" fill="none"/>
<path d="M781.00,790.00 Q777.15,799.65 776.60,803.00" stroke="#1c5a1c" stroke-width="1" fill="none"/>
<path d="M229.00,946.70 L209.00,935.60" stroke="#1c5a1c" stroke-width="2" fill="none"/>
<path d="M209.00,935.60 Q206.34,944.15 207.00,946.70" stroke="#1c5a1c" stroke-width="1" fill="none"/>
<path d="M864.00,946.70 L884.00,935.60" stroke="#1c5a1c" stroke-width="2" fill="none"/>
<path d="M884.00,935.60 Q883.34,938.15 886.00,946.70" stroke="#1c5a1c" stroke-width="1" fill="none"/>
<path d="M478.30,940.50 L497.40,929.80" stroke="#1c5a1c" stroke-width="2" fill="none"/>
<path d="M497.40,929.80 Q497.59,932.28 501.00,940.50" stroke="#1c5a1c" stroke-width="1" fill="none"/>
<path d="M614.70,940.50 L595.60,929.80" stroke="#1c5a1c" stroke-width="2" fill="none"/>
<path d="M595.60,929.80 Q592.19,938.01 592.00,940.50" stroke="#1c5a1c" stroke-width="1" fill="none"/>
<path d="M487.50,716.00 L478.00,729.00" stroke="#1c5a1c" stroke-width="2" fill="none"/>
<path d="M478.00,729.00 Q485.45,732.92 489.00,734.00" stroke="#1c5a1c" stroke-width="1" fill="none"/>
<path d="M605.50,716.00 L615.00,729.00" stroke="#1c5a1c" stroke-width="2" fill="none"/>
<path d="M615.00,729.00 Q611.45,730.08 604.00,734.00" stroke="#1c5a1c" stroke-width="1" fill="none"/>
<path d="M456.00,789.00 L441.00,794.00" stroke="#1c5a1c" stroke-width="2" fill="none"/>
<path d="M441.00,794.00 Q437.25,793.75 432.00,789.00" stroke="#1c5a1c" stroke-width="1" fill="none"/>
<path d="M637.00,789.00 L652.00,794.00" stroke="#1c5a1c" stroke-width="2" fill="none"/>
<path d="M652.00,794.00 Q657.25,789.25 661.00,789.00" stroke="#1c5a1c" stroke-width="1" fill="none"/>
<path d="M430.00,789.00 L418.00,800.00" stroke="#1c5a1c" stroke-width="2" fill="none"/>
<path d="M418.00,800.00 Q416.65,796.30 412.00,789.00" stroke="#1c5a1c" stroke-width="1" fill="none"/>
<path d="M663.00,789.00 L675.00,800.00" stroke="#1c5a1c" stroke-width="2" fill="none"/>
<path d="M675.00,800.00 Q679.65,792.70 681.00,789.00" stroke="#1c5a1c" stroke-width="1" fill="none"/>
<path d="M185.00,134.00 L179.50,155.00" stroke="#1c5a1c" stroke-width="2" fill="none"/>
<path d="M179.50,155.00 Q176.65,153.32 167.50,150.00" stroke="#1c5a1c" stroke-width="1" fill="none"/>
<path d="M908.00,134.00 L913.50,155.00" stroke="#1c5a1c" stroke-width="2" fill="none"/>
<path d="M913.50,155.00 Q922.65,151.68 925.50,150.00" stroke="#1c5a1c" stroke-width="1" fill="none"/>
<path d="M126.00,470.00 L138.00,489.00" stroke="#1c5a1c" stroke-width="2" fill="none"/>
<path d="M138.00,489.00 Q134.85,489.20 126.00,493.00" stroke="#1c5a1c" stroke-width="1" fill="none"/>
<path d="M967.00,470.00 L955.00,489.00" stroke="#1c5a1c" stroke-width="2" fill="none"/>
<path d="M955.00,489.00 Q963.85,492.80 967.00,493.00" stroke="#1c5a1c" stroke-width="1" fill="none"/>
<path d="M127.00,610.00 L138.00,589.00" stroke="#1c5a1c" stroke-width="2" fill="none"/>
<path d="M138.00,589.00 Q128.85,585.85 126.00,586.00" stroke="#1c5a1c" stroke-width="1" fill="none"/>
<path d="M966.00,610.00 L955.00,589.00" stroke="#1c5a1c" stroke-width="2" fill="none"/>
<path d="M955.00,589.00 Q957.85,589.15 967.00,586.00" stroke="#1c5a1c" stroke-width="1" fill="none"/>
<path d="M421.80,432.50 L442.90,448.00" stroke="#1c5a1c" stroke-width="2" fill="none"/>
<path d="M442.90,448.00 Q448.43,437.08 449.30,432.50" stroke="#1c5a1c" stroke-width="1" fill="none"/>
<path d="M690.20,413.30 L668.20,428.00" stroke="#1c5a1c" stroke-width="2" fill="none"/>
<path d="M668.20,428.00 Q667.66,423.50 662.70,412.40" stroke="#1c5a1c" stroke-width="1" fill="none"/>
<text x="410" y="330" font-family="Liberation Serif, serif" font-style="italic" font-weight="normal" font-size="18.5" fill="#111" text-anchor="start" >2.39</text>
<text x="651.8" y="323.3" font-family="Liberation Serif, serif" font-style="italic" font-weight="normal" font-size="18.5" fill="#111" text-anchor="start" >2.39</text>
<text x="186" y="909" font-family="Liberation Sans, sans-serif" font-style="italic" font-weight="normal" font-size="13" fill="#40d0e0" text-anchor="start" >Б-1</text>
<line x1="186.00" y1="911.50" x2="203.00" y2="911.50" stroke="#40d0e0" stroke-width="1" />
<text x="81" y="281.8" font-family="Liberation Serif, serif" font-style="italic" font-weight="normal" font-size="18.8" fill="#111" text-anchor="start" >Спальня</text>
<text x="182.5" y="230.8" font-family="Liberation Serif, serif" font-style="italic" font-weight="normal" font-size="18.8" fill="#111" text-anchor="start" >Спальня</text>
<text x="279" y="228.3" font-family="Liberation Serif, serif" font-style="italic" font-weight="normal" font-size="18.8" fill="#111" text-anchor="start" >Гостинная</text>
<text x="390.5" y="226.8" font-family="Liberation Serif, serif" font-style="italic" font-weight="normal" font-size="18.8" fill="#111" text-anchor="start" >Кухня</text>
<text x="257.4" y="322.8" font-family="Liberation Serif, serif" font-style="italic" font-weight="normal" font-size="18.8" fill="#111" text-anchor="start" >Коридор</text>
<text x="421" y="306.8" font-family="Liberation Serif, serif" font-style="italic" font-weight="normal" font-size="18.8" fill="#111" text-anchor="start" >с/у</text>
<text x="303.7" y="379.5" font-family="Liberation Serif, serif" font-style="italic" font-weight="normal" font-size="18.8" fill="#111" text-anchor="start" >Ванная</text>
<text x="392.5" y="413.3" font-family="Liberation Serif, serif" font-style="italic" font-weight="normal" font-size="18.8" fill="#111" text-anchor="start" >Прихожая</text>
<text x="141" y="384.55" font-family="Liberation Serif, serif" font-style="italic" font-weight="normal" font-size="18.8" fill="#111" text-anchor="start" >Гостинная</text>
<text x="284.7" y="432.8" font-family="Liberation Serif, serif" font-style="italic" font-weight="normal" font-size="18.8" fill="#111" text-anchor="start" >Прихожая</text>
<text x="178.75" y="483.3" font-family="Liberation Serif, serif" font-style="italic" font-weight="normal" font-size="18.8" fill="#111" text-anchor="start" >Кухня</text>
<text x="308" y="523.8" font-family="Liberation Serif, serif" font-style="italic" font-weight="normal" font-size="18.8" fill="#111" text-anchor="start" >Ванная</text>
<text x="300" y="584.55" font-family="Liberation Serif, serif" font-style="italic" font-weight="normal" font-size="18.8" fill="#111" text-anchor="start" >Ванная</text>
<text x="178.75" y="576.8" font-family="Liberation Serif, serif" font-style="italic" font-weight="normal" font-size="18.8" fill="#111" text-anchor="start" >Кухня</text>
<text x="285" y="664.55" font-family="Liberation Serif, serif" font-style="italic" font-weight="normal" font-size="18.8" fill="#111" text-anchor="start" >Прихожая</text>
<text x="141" y="683.3" font-family="Liberation Serif, serif" font-style="italic" font-weight="normal" font-size="18.8" fill="#111" text-anchor="start" >Гостинная</text>
<text x="268.75" y="706.8" font-family="Liberation Serif, serif" font-style="italic" font-weight="normal" font-size="18.8" fill="#111" text-anchor="start" >с/у</text>
<text x="313.75" y="704.55" font-family="Liberation Serif, serif" font-style="italic" font-weight="normal" font-size="18.8" fill="#111" text-anchor="start" >Ванная</text>
<text x="233.75" y="759.55" font-family="Liberation Serif, serif" font-style="italic" font-weight="normal" font-size="18.8" fill="#111" text-anchor="start" >Прихожая-коридор</text>
<text x="127.5" y="775.8" font-family="Liberation Serif, serif" font-style="italic" font-weight="normal" font-size="18.8" fill="#111" text-anchor="start" >Спальня</text>
<text x="190" y="869.55" font-family="Liberation Serif, serif" font-style="italic" font-weight="normal" font-size="18.8" fill="#111" text-anchor="start" >Кухня</text>
<text x="258.75" y="884.55" font-family="Liberation Serif, serif" font-style="italic" font-weight="normal" font-size="18.8" fill="#111" text-anchor="start" >Гостинная</text>
<text x="428.75" y="739.55" font-family="Liberation Serif, serif" font-style="italic" font-weight="normal" font-size="18.8" fill="#111" text-anchor="start" >Прихо-</text>
<text x="428.75" y="753.3" font-family="Liberation Serif, serif" font-style="italic" font-weight="normal" font-size="18.8" fill="#111" text-anchor="start" >жая</text>
<text x="488.75" y="723.3" font-family="Liberation Serif, serif" font-style="italic" font-weight="normal" font-size="18.8" fill="#111" text-anchor="start" >Ванная</text>
<text x="365" y="866.8" font-family="Liberation Serif, serif" font-style="italic" font-weight="normal" font-size="18.8" fill="#111" text-anchor="start" >Гостинная</text>
<text x="483.75" y="851.8" font-family="Liberation Serif, serif" font-style="italic" font-weight="normal" font-size="18.8" fill="#111" text-anchor="start" >Кухня</text>
<text x="667" y="230.5" font-family="Liberation Serif, serif" font-style="italic" font-weight="normal" font-size="18.8" fill="#111" text-anchor="start" >Кухня</text>
<text x="746.7" y="228.0" font-family="Liberation Serif, serif" font-style="italic" font-weight="normal" font-size="18.8" fill="#111" text-anchor="start" >Гостинная</text>
<text x="855.6" y="228.0" font-family="Liberation Serif, serif" font-style="italic" font-weight="normal" font-size="18.8" fill="#111" text-anchor="start" >Спальня</text>
<text x="974" y="280.8" font-family="Liberation Serif, serif" font-style="italic" font-weight="normal" font-size="18.8" fill="#111" text-anchor="start" >Спальня</text>
<text x="767" y="321.6" font-family="Liberation Serif, serif" font-style="italic" font-weight="normal" font-size="18.8" fill="#111" text-anchor="start" >Коридор</text>
<text x="657" y="307.5" font-family="Liberation Serif, serif" font-style="italic" font-weight="normal" font-size="18.8" fill="#111" text-anchor="start" >с/у</text>
<text x="641.5" y="353.6" font-family="Liberation Serif, serif" font-style="italic" font-weight="normal" font-size="18.8" fill="#111" text-anchor="start" >Прихожая</text>
<text x="746.7" y="379.3" font-family="Liberation Serif, serif" font-style="italic" font-weight="normal" font-size="18.8" fill="#111" text-anchor="start" >Ванная</text>
<text x="882.5" y="378.2" font-family="Liberation Serif, serif" font-style="italic" font-weight="normal" font-size="18.8" fill="#111" text-anchor="start" >Гостинная</text>
<text x="728.75" y="433.3" font-family="Liberation Serif, serif" font-style="italic" font-weight="normal" font-size="18.8" fill="#111" text-anchor="start" >Прихожая</text>
<text x="886.4" y="479.5" font-family="Liberation Serif, serif" font-style="italic" font-weight="normal" font-size="18.8" fill="#111" text-anchor="start" >Кухня</text>
<text x="742.5" y="525.8" font-family="Liberation Serif, serif" font-style="italic" font-weight="normal" font-size="18.8" fill="#111" text-anchor="start" >Ванная</text>
<text x="749.5" y="589.5" font-family="Liberation Serif, serif" font-style="italic" font-weight="normal" font-size="18.8" fill="#111" text-anchor="start" >Ванная</text>
<text x="879" y="587.0" font-family="Liberation Serif, serif" font-style="italic" font-weight="normal" font-size="18.8" fill="#111" text-anchor="start" >Кухня</text>
<text x="727.7" y="665.1999999999999" font-family="Liberation Serif, serif" font-style="italic" font-weight="normal" font-size="18.8" fill="#111" text-anchor="start" >Прихожая</text>
<text x="876.4" y="666.4" font-family="Liberation Serif, serif" font-style="italic" font-weight="normal" font-size="18.8" fill="#111" text-anchor="start" >Гостинная</text>
<text x="726.4" y="703.5999999999999" font-family="Liberation Serif, serif" font-style="italic" font-weight="normal" font-size="18.8" fill="#111" text-anchor="start" >Ванная</text>
<text x="802" y="699.8" font-family="Liberation Serif, serif" font-style="italic" font-weight="normal" font-size="18.8" fill="#111" text-anchor="start" >с/у</text>
<text x="704.2" y="757.8" font-family="Liberation Serif, serif" font-style="italic" font-weight="normal" font-size="18.8" fill="#111" text-anchor="start" >Прихожая-коридор</text>
<text x="900" y="769.0999999999999" font-family="Liberation Serif, serif" font-style="italic" font-weight="normal" font-size="18.8" fill="#111" text-anchor="start" >Спальня</text>
<text x="745.4" y="875.5999999999999" font-family="Liberation Serif, serif" font-style="italic" font-weight="normal" font-size="18.8" fill="#111" text-anchor="start" >Гостинная</text>
<text x="871.7" y="874.1999999999999" font-family="Liberation Serif, serif" font-style="italic" font-weight="normal" font-size="18.8" fill="#111" text-anchor="start" >Кухня</text>
<text x="553.2" y="697.1999999999999" font-family="Liberation Serif, serif" font-style="italic" font-weight="normal" font-size="18.8" fill="#111" text-anchor="start" >Ванная</text>
<text x="640.7" y="865.5" font-family="Liberation Serif, serif" font-style="italic" font-weight="normal" font-size="18.8" fill="#111" text-anchor="start" >Гостинная</text>
<text x="581.3" y="852.3" font-family="Liberation Serif, serif" font-style="italic" font-weight="normal" font-size="18.8" fill="#111" text-anchor="start" >Кухня</text>
<text x="102.5" y="328.3" font-family="Liberation Serif, serif" font-style="italic" font-weight="normal" font-size="18.8" fill="#111" text-anchor="start" >13,31</text>
<line x1="102.00" y1="330.80" x2="140.57" y2="330.80" stroke="#1a1a2a" stroke-width="1.3" />
<text x="212.5" y="275.8" font-family="Liberation Serif, serif" font-style="italic" font-weight="normal" font-size="18.8" fill="#111" text-anchor="start" >16,39</text>
<line x1="212.00" y1="278.30" x2="250.57" y2="278.30" stroke="#1a1a2a" stroke-width="1.3" />
<text x="323" y="273.3" font-family="Liberation Serif, serif" font-style="italic" font-weight="normal" font-size="18.8" fill="#111" text-anchor="start" >17,64</text>
<line x1="322.50" y1="275.80" x2="361.07" y2="275.80" stroke="#1a1a2a" stroke-width="1.3" />
<text x="397" y="264.8" font-family="Liberation Serif, serif" font-style="italic" font-weight="normal" font-size="18.8" fill="#111" text-anchor="start" >11,81</text>
<line x1="396.50" y1="267.30" x2="435.07" y2="267.30" stroke="#1a1a2a" stroke-width="1.3" />
<text x="343" y="340.8" font-family="Liberation Serif, serif" font-style="italic" font-weight="normal" font-size="18.8" fill="#111" text-anchor="start" >10,48</text>
<line x1="342.50" y1="343.30" x2="381.07" y2="343.30" stroke="#1a1a2a" stroke-width="1.3" />
<text x="304.8" y="396.40000000000003" font-family="Liberation Serif, serif" font-style="italic" font-weight="normal" font-size="18.8" fill="#111" text-anchor="start" >5,13</text>
<line x1="304.30" y1="398.90" x2="335.26" y2="398.90" stroke="#1a1a2a" stroke-width="1.3" />
<text x="376" y="425.8" font-family="Liberation Serif, serif" font-style="italic" font-weight="normal" font-size="18.8" fill="#111" text-anchor="start" >7,45</text>
<line x1="375.50" y1="428.30" x2="406.46" y2="428.30" stroke="#1a1a2a" stroke-width="1.3" />
<text x="201" y="433.3" font-family="Liberation Serif, serif" font-style="italic" font-weight="normal" font-size="18.8" fill="#111" text-anchor="start" >20,33</text>
<line x1="200.50" y1="435.80" x2="239.07" y2="435.80" stroke="#1a1a2a" stroke-width="1.3" />
<text x="335.7" y="472.8" font-family="Liberation Serif, serif" font-style="italic" font-weight="normal" font-size="18.8" fill="#111" text-anchor="start" >5,57</text>
<line x1="335.20" y1="475.30" x2="366.16" y2="475.30" stroke="#1a1a2a" stroke-width="1.3" />
<text x="172.5" y="501.8" font-family="Liberation Serif, serif" font-style="italic" font-weight="normal" font-size="18.8" fill="#111" text-anchor="start" >11,15</text>
<line x1="172.00" y1="504.30" x2="210.57" y2="504.30" stroke="#1a1a2a" stroke-width="1.3" />
<text x="294.5" y="501.8" font-family="Liberation Serif, serif" font-style="italic" font-weight="normal" font-size="18.8" fill="#111" text-anchor="start" >4,64</text>
<line x1="294.00" y1="504.30" x2="324.96" y2="504.30" stroke="#1a1a2a" stroke-width="1.3" />
<text x="305" y="565.8" font-family="Liberation Serif, serif" font-style="italic" font-weight="normal" font-size="18.8" fill="#111" text-anchor="start" >4,64</text>
<line x1="304.50" y1="568.30" x2="335.46" y2="568.30" stroke="#1a1a2a" stroke-width="1.3" />
<text x="173.75" y="611.8" font-family="Liberation Serif, serif" font-style="italic" font-weight="normal" font-size="18.8" fill="#111" text-anchor="start" >10,99</text>
<line x1="173.25" y1="614.30" x2="211.82" y2="614.30" stroke="#1a1a2a" stroke-width="1.3" />
<text x="333.75" y="616.8" font-family="Liberation Serif, serif" font-style="italic" font-weight="normal" font-size="18.8" fill="#111" text-anchor="start" >6,57</text>
<line x1="333.25" y1="619.30" x2="364.21" y2="619.30" stroke="#1a1a2a" stroke-width="1.3" />
<text x="201" y="711.8" font-family="Liberation Serif, serif" font-style="italic" font-weight="normal" font-size="18.8" fill="#111" text-anchor="start" >20,86</text>
<line x1="200.50" y1="714.30" x2="239.07" y2="714.30" stroke="#1a1a2a" stroke-width="1.3" />
<text x="266" y="724.8" font-family="Liberation Serif, serif" font-style="italic" font-weight="normal" font-size="18.8" fill="#111" text-anchor="start" >1,50</text>
<line x1="265.50" y1="727.30" x2="296.46" y2="727.30" stroke="#1a1a2a" stroke-width="1.3" />
<text x="322.5" y="723.3" font-family="Liberation Serif, serif" font-style="italic" font-weight="normal" font-size="18.8" fill="#111" text-anchor="start" >3,09</text>
<line x1="322.00" y1="725.80" x2="352.96" y2="725.80" stroke="#1a1a2a" stroke-width="1.3" />
<text x="271" y="789.55" font-family="Liberation Serif, serif" font-style="italic" font-weight="normal" font-size="18.8" fill="#111" text-anchor="start" >17,18</text>
<line x1="270.50" y1="792.05" x2="309.07" y2="792.05" stroke="#1a1a2a" stroke-width="1.3" />
<text x="166" y="824.55" font-family="Liberation Serif, serif" font-style="italic" font-weight="normal" font-size="18.8" fill="#111" text-anchor="start" >11,72</text>
<line x1="165.50" y1="827.05" x2="204.07" y2="827.05" stroke="#1a1a2a" stroke-width="1.3" />
<text x="190" y="888.3" font-family="Liberation Serif, serif" font-style="italic" font-weight="normal" font-size="18.8" fill="#111" text-anchor="start" >9,14</text>
<line x1="189.50" y1="890.80" x2="220.46" y2="890.80" stroke="#1a1a2a" stroke-width="1.3" />
<text x="303.75" y="939.55" font-family="Liberation Serif, serif" font-style="italic" font-weight="normal" font-size="18.8" fill="#111" text-anchor="start" >17,69</text>
<line x1="303.25" y1="942.05" x2="341.82" y2="942.05" stroke="#1a1a2a" stroke-width="1.3" />
<text x="165" y="965.8" font-family="Liberation Serif, serif" font-style="italic" font-weight="normal" font-size="18.8" fill="#111" text-anchor="start" >3,20</text>
<line x1="164.50" y1="968.30" x2="195.46" y2="968.30" stroke="#1a1a2a" stroke-width="1.3" />
<text x="452.5" y="773.3" font-family="Liberation Serif, serif" font-style="italic" font-weight="normal" font-size="18.8" fill="#111" text-anchor="start" >7,06</text>
<line x1="452.00" y1="775.80" x2="482.96" y2="775.80" stroke="#1a1a2a" stroke-width="1.3" />
<text x="500" y="746.8" font-family="Liberation Serif, serif" font-style="italic" font-weight="normal" font-size="18.8" fill="#111" text-anchor="start" >5,24</text>
<line x1="499.50" y1="749.30" x2="530.46" y2="749.30" stroke="#1a1a2a" stroke-width="1.3" />
<text x="395" y="890.8" font-family="Liberation Serif, serif" font-style="italic" font-weight="normal" font-size="18.8" fill="#111" text-anchor="start" >16,77</text>
<line x1="394.50" y1="893.30" x2="433.07" y2="893.30" stroke="#1a1a2a" stroke-width="1.3" />
<text x="477.5" y="893.3" font-family="Liberation Serif, serif" font-style="italic" font-weight="normal" font-size="18.8" fill="#111" text-anchor="start" >11,24</text>
<line x1="477.00" y1="895.80" x2="515.57" y2="895.80" stroke="#1a1a2a" stroke-width="1.3" />
<text x="501" y="973.4" font-family="Liberation Serif, serif" font-style="italic" font-weight="normal" font-size="18.8" fill="#111" text-anchor="start" >3,40</text>
<line x1="500.50" y1="975.90" x2="531.46" y2="975.90" stroke="#1a1a2a" stroke-width="1.3" />
<text x="112" y="156.8" font-family="Liberation Serif, serif" font-style="italic" font-weight="normal" font-size="18.8" fill="#111" text-anchor="start" >4,70</text>
<line x1="111.50" y1="159.30" x2="142.46" y2="159.30" stroke="#1a1a2a" stroke-width="1.3" />
<text x="84" y="487.8" font-family="Liberation Serif, serif" font-style="italic" font-weight="normal" font-size="18.8" fill="#111" text-anchor="start" >2,86</text>
<line x1="83.50" y1="490.30" x2="114.46" y2="490.30" stroke="#1a1a2a" stroke-width="1.3" />
<text x="84" y="586.8" font-family="Liberation Serif, serif" font-style="italic" font-weight="normal" font-size="18.8" fill="#111" text-anchor="start" >2,50</text>
<line x1="83.50" y1="589.30" x2="114.46" y2="589.30" stroke="#1a1a2a" stroke-width="1.3" />
<text x="668.5" y="265.2" font-family="Liberation Serif, serif" font-style="italic" font-weight="normal" font-size="18.8" fill="#111" text-anchor="start" >11,81</text>
<line x1="668.00" y1="267.70" x2="706.57" y2="267.70" stroke="#1a1a2a" stroke-width="1.3" />
<text x="768.5" y="276.7" font-family="Liberation Serif, serif" font-style="italic" font-weight="normal" font-size="18.8" fill="#111" text-anchor="start" >17,64</text>
<line x1="768.00" y1="279.20" x2="806.57" y2="279.20" stroke="#1a1a2a" stroke-width="1.3" />
<text x="864.6" y="276.7" font-family="Liberation Serif, serif" font-style="italic" font-weight="normal" font-size="18.8" fill="#111" text-anchor="start" >16,39</text>
<line x1="864.10" y1="279.20" x2="902.67" y2="279.20" stroke="#1a1a2a" stroke-width="1.3" />
<text x="996.5" y="315.8" font-family="Liberation Serif, serif" font-style="italic" font-weight="normal" font-size="18.8" fill="#111" text-anchor="start" >13,31</text>
<line x1="996.00" y1="318.30" x2="1034.57" y2="318.30" stroke="#1a1a2a" stroke-width="1.3" />
<text x="961.5" y="181.8" font-family="Liberation Serif, serif" font-style="italic" font-weight="normal" font-size="18.8" fill="#111" text-anchor="start" >4,70</text>
<line x1="961.00" y1="184.30" x2="991.96" y2="184.30" stroke="#1a1a2a" stroke-width="1.3" />
<text x="710.8" y="334.40000000000003" font-family="Liberation Serif, serif" font-style="italic" font-weight="normal" font-size="18.8" fill="#111" text-anchor="start" >10,48</text>
<line x1="710.30" y1="336.90" x2="748.87" y2="336.90" stroke="#1a1a2a" stroke-width="1.3" />
<text x="688.75" y="405.8" font-family="Liberation Serif, serif" font-style="italic" font-weight="normal" font-size="18.8" fill="#111" text-anchor="start" >5,81</text>
<line x1="688.25" y1="408.30" x2="719.21" y2="408.30" stroke="#1a1a2a" stroke-width="1.3" />
<text x="758.75" y="397.05" font-family="Liberation Serif, serif" font-style="italic" font-weight="normal" font-size="18.8" fill="#111" text-anchor="start" >5,13</text>
<line x1="758.25" y1="399.55" x2="789.21" y2="399.55" stroke="#1a1a2a" stroke-width="1.3" />
<text x="942.8" y="428.2" font-family="Liberation Serif, serif" font-style="italic" font-weight="normal" font-size="18.8" fill="#111" text-anchor="start" >20,33</text>
<line x1="942.30" y1="430.70" x2="980.87" y2="430.70" stroke="#1a1a2a" stroke-width="1.3" />
<text x="785" y="473.3" font-family="Liberation Serif, serif" font-style="italic" font-weight="normal" font-size="18.8" fill="#111" text-anchor="start" >5,57</text>
<line x1="784.50" y1="475.80" x2="815.46" y2="475.80" stroke="#1a1a2a" stroke-width="1.3" />
<text x="750" y="503.3" font-family="Liberation Serif, serif" font-style="italic" font-weight="normal" font-size="18.8" fill="#111" text-anchor="start" >4,64</text>
<line x1="749.50" y1="505.80" x2="780.46" y2="505.80" stroke="#1a1a2a" stroke-width="1.3" />
<text x="880" y="497.5" font-family="Liberation Serif, serif" font-style="italic" font-weight="normal" font-size="18.8" fill="#111" text-anchor="start" >11,15</text>
<line x1="879.50" y1="500.00" x2="918.07" y2="500.00" stroke="#1a1a2a" stroke-width="1.3" />
<text x="978.7" y="523.0999999999999" font-family="Liberation Serif, serif" font-style="italic" font-weight="normal" font-size="18.8" fill="#111" text-anchor="start" >2,80</text>
<line x1="978.20" y1="525.60" x2="1009.16" y2="525.60" stroke="#1a1a2a" stroke-width="1.3" />
<text x="759.7" y="565.1999999999999" font-family="Liberation Serif, serif" font-style="italic" font-weight="normal" font-size="18.8" fill="#111" text-anchor="start" >4,64</text>
<line x1="759.20" y1="567.70" x2="790.16" y2="567.70" stroke="#1a1a2a" stroke-width="1.3" />
<text x="897" y="613.8" font-family="Liberation Serif, serif" font-style="italic" font-weight="normal" font-size="18.8" fill="#111" text-anchor="start" >10,99</text>
<line x1="896.50" y1="616.30" x2="935.07" y2="616.30" stroke="#1a1a2a" stroke-width="1.3" />
<text x="977.7" y="590.8" font-family="Liberation Serif, serif" font-style="italic" font-weight="normal" font-size="18.8" fill="#111" text-anchor="start" >2,50</text>
<line x1="977.20" y1="593.30" x2="1008.16" y2="593.30" stroke="#1a1a2a" stroke-width="1.3" />
<text x="730" y="617.8" font-family="Liberation Serif, serif" font-style="italic" font-weight="normal" font-size="18.8" fill="#111" text-anchor="start" >6,57</text>
<line x1="729.50" y1="620.30" x2="760.46" y2="620.30" stroke="#1a1a2a" stroke-width="1.3" />
<text x="936.7" y="694.5999999999999" font-family="Liberation Serif, serif" font-style="italic" font-weight="normal" font-size="18.8" fill="#111" text-anchor="start" >20,86</text>
<line x1="936.20" y1="697.10" x2="974.77" y2="697.10" stroke="#1a1a2a" stroke-width="1.3" />
<text x="736.7" y="722.8" font-family="Liberation Serif, serif" font-style="italic" font-weight="normal" font-size="18.8" fill="#111" text-anchor="start" >3,09</text>
<line x1="736.20" y1="725.30" x2="767.16" y2="725.30" stroke="#1a1a2a" stroke-width="1.3" />
<text x="798" y="721.5999999999999" font-family="Liberation Serif, serif" font-style="italic" font-weight="normal" font-size="18.8" fill="#111" text-anchor="start" >1,50</text>
<line x1="797.50" y1="724.10" x2="828.46" y2="724.10" stroke="#1a1a2a" stroke-width="1.3" />
<text x="778" y="784.6999999999999" font-family="Liberation Serif, serif" font-style="italic" font-weight="normal" font-size="18.8" fill="#111" text-anchor="start" >17,18</text>
<line x1="777.50" y1="787.20" x2="816.07" y2="787.20" stroke="#1a1a2a" stroke-width="1.3" />
<text x="938.4" y="816.0" font-family="Liberation Serif, serif" font-style="italic" font-weight="normal" font-size="18.8" fill="#111" text-anchor="start" >11,72</text>
<line x1="937.90" y1="818.50" x2="976.47" y2="818.50" stroke="#1a1a2a" stroke-width="1.3" />
<text x="778" y="929.5" font-family="Liberation Serif, serif" font-style="italic" font-weight="normal" font-size="18.8" fill="#111" text-anchor="start" >17,69</text>
<line x1="777.50" y1="932.00" x2="816.07" y2="932.00" stroke="#1a1a2a" stroke-width="1.3" />
<text x="878.8" y="918.1999999999999" font-family="Liberation Serif, serif" font-style="italic" font-weight="normal" font-size="18.8" fill="#111" text-anchor="start" >9,14</text>
<line x1="878.30" y1="920.70" x2="909.26" y2="920.70" stroke="#1a1a2a" stroke-width="1.3" />
<text x="888.7" y="965.0" font-family="Liberation Serif, serif" font-style="italic" font-weight="normal" font-size="18.8" fill="#111" text-anchor="start" >3,20</text>
<line x1="888.20" y1="967.50" x2="919.16" y2="967.50" stroke="#1a1a2a" stroke-width="1.3" />
<text x="561.5" y="748.4" font-family="Liberation Serif, serif" font-style="italic" font-weight="normal" font-size="18.8" fill="#111" text-anchor="start" >5,24</text>
<line x1="561.00" y1="750.90" x2="591.96" y2="750.90" stroke="#1a1a2a" stroke-width="1.3" />
<text x="665.4" y="891.8" font-family="Liberation Serif, serif" font-style="italic" font-weight="normal" font-size="18.8" fill="#111" text-anchor="start" >16,77</text>
<line x1="664.90" y1="894.30" x2="703.47" y2="894.30" stroke="#1a1a2a" stroke-width="1.3" />
<text x="576.3" y="891.8" font-family="Liberation Serif, serif" font-style="italic" font-weight="normal" font-size="18.8" fill="#111" text-anchor="start" >11,24</text>
<line x1="575.80" y1="894.30" x2="614.37" y2="894.30" stroke="#1a1a2a" stroke-width="1.3" />
<text x="564.75" y="976.0999999999999" font-family="Liberation Serif, serif" font-style="italic" font-weight="normal" font-size="18.8" fill="#111" text-anchor="start" >3,40</text>
<line x1="564.25" y1="978.60" x2="595.21" y2="978.60" stroke="#1a1a2a" stroke-width="1.3" />
<circle cx="410.5" cy="373.9" r="25.8" fill="none" stroke="#a03a28" stroke-width="1.3"/>
<text x="412.35" y="372.7" font-family="Liberation Serif, serif" font-style="italic" font-weight="normal" font-size="16.5" fill="#a03a28" text-anchor="middle" >3А</text>
<line x1="393.50" y1="375.40" x2="431.00" y2="375.40" stroke="#a03a28" stroke-width="1.5" />
<text x="411.45" y="387.7" font-family="Liberation Serif, serif" font-style="italic" font-weight="normal" font-size="16.5" fill="#a03a28" text-anchor="middle" >86.95</text>
<circle cx="312.75" cy="452.8" r="25.8" fill="none" stroke="#e04858" stroke-width="1.3"/>
<text x="312.2" y="445.6" font-family="Liberation Serif, serif" font-style="italic" font-weight="normal" font-size="16.5" fill="#e04858" text-anchor="middle" >1В</text>
<line x1="294.90" y1="449.50" x2="332.40" y2="449.50" stroke="#e04858" stroke-width="1.5" />
<text x="312.25" y="464.8" font-family="Liberation Serif, serif" font-style="italic" font-weight="normal" font-size="16.5" fill="#e04858" text-anchor="middle" >43,09</text>
<circle cx="313.25" cy="626.8" r="25.8" fill="none" stroke="#c04828" stroke-width="1.3"/>
<text x="312.75" y="623.6" font-family="Liberation Serif, serif" font-style="italic" font-weight="normal" font-size="16.5" fill="#c04828" text-anchor="middle" >1Б</text>
<line x1="295.70" y1="627.50" x2="333.20" y2="627.50" stroke="#c04828" stroke-width="1.5" />
<text x="312.9" y="640.7" font-family="Liberation Serif, serif" font-style="italic" font-weight="normal" font-size="16.5" fill="#c04828" text-anchor="middle" >44,31</text>
<circle cx="392.9" cy="775.3" r="25.8" fill="none" stroke="#a05010" stroke-width="1.3"/>
<text x="391.65" y="768.7" font-family="Liberation Serif, serif" font-style="italic" font-weight="normal" font-size="16.5" fill="#a05010" text-anchor="middle" >2А</text>
<line x1="374.60" y1="772.00" x2="411.80" y2="772.00" stroke="#a05010" stroke-width="1.5" />
<text x="392.5" y="784.6" font-family="Liberation Serif, serif" font-style="italic" font-weight="normal" font-size="16.5" fill="#a05010" text-anchor="middle" >61,92</text>
<circle cx="456.2" cy="700" r="25.8" fill="none" stroke="#d04818" stroke-width="1.3"/>
<text x="457.9" y="691.6" font-family="Liberation Serif, serif" font-style="italic" font-weight="normal" font-size="16.5" fill="#d04818" text-anchor="middle" >1А</text>
<line x1="438.00" y1="695.50" x2="475.50" y2="695.50" stroke="#d04818" stroke-width="1.5" />
<text x="455.65" y="709.6" font-family="Liberation Serif, serif" font-style="italic" font-weight="normal" font-size="16.5" fill="#d04818" text-anchor="middle" >42,01</text>
<circle cx="668" cy="381.1" r="25.8" fill="none" stroke="#b03a2c" stroke-width="1.3"/>
<text x="668.85" y="374.8" font-family="Liberation Serif, serif" font-style="italic" font-weight="normal" font-size="16.5" fill="#b03a2c" text-anchor="middle" >3Б</text>
<line x1="647.90" y1="378.30" x2="685.70" y2="378.30" stroke="#b03a2c" stroke-width="1.5" />
<text x="666.6" y="392.8" font-family="Liberation Serif, serif" font-style="italic" font-weight="normal" font-size="16.5" fill="#b03a2c" text-anchor="middle" >85,31</text>
<circle cx="753" cy="457.7" r="25.8" fill="none" stroke="#e04858" stroke-width="1.3"/>
<text x="753.8" y="449.6" font-family="Liberation Serif, serif" font-style="italic" font-weight="normal" font-size="16.5" fill="#e04858" text-anchor="middle" >1Г</text>
<line x1="735.70" y1="453.50" x2="773.20" y2="453.50" stroke="#e04858" stroke-width="1.5" />
<text x="752.9" y="468.5" font-family="Liberation Serif, serif" font-style="italic" font-weight="normal" font-size="16.5" fill="#e04858" text-anchor="middle" >43,09</text>
<circle cx="785.5" cy="626.7" r="25.8" fill="none" stroke="#c04828" stroke-width="1.3"/>
<text x="785.75" y="623.7" font-family="Liberation Serif, serif" font-style="italic" font-weight="normal" font-size="16.5" fill="#c04828" text-anchor="middle" >1Д</text>
<line x1="768.10" y1="627.60" x2="805.30" y2="627.60" stroke="#c04828" stroke-width="1.5" />
<text x="785.6" y="640.5" font-family="Liberation Serif, serif" font-style="italic" font-weight="normal" font-size="16.5" fill="#c04828" text-anchor="middle" >44,31</text>
<circle cx="735.9" cy="782.5" r="25.8" fill="none" stroke="#a05010" stroke-width="1.3"/>
<text x="737.35" y="773.5" font-family="Liberation Serif, serif" font-style="italic" font-weight="normal" font-size="16.5" fill="#a05010" text-anchor="middle" >2Б</text>
<line x1="717.30" y1="777.40" x2="754.80" y2="777.40" stroke="#a05010" stroke-width="1.5" />
<text x="735.4" y="791.5" font-family="Liberation Serif, serif" font-style="italic" font-weight="normal" font-size="16.5" fill="#a05010" text-anchor="middle" >61,92</text>
<circle cx="636.9" cy="713.8" r="25.8" fill="none" stroke="#d04818" stroke-width="1.3"/>
<text x="639.55" y="704.5" font-family="Liberation Serif, serif" font-style="italic" font-weight="normal" font-size="16.5" fill="#d04818" text-anchor="middle" >1Е</text>
<line x1="618.90" y1="709.30" x2="656.40" y2="709.30" stroke="#d04818" stroke-width="1.5" />
<text x="636.4" y="725.5" font-family="Liberation Serif, serif" font-style="italic" font-weight="normal" font-size="16.5" fill="#d04818" text-anchor="middle" >42,01</text>
<text x="524" y="192" font-family="Liberation Sans, sans-serif" font-style="italic" font-weight="normal" font-size="16" fill="#9440c4" text-anchor="start" >5,0</text>
<line x1="517.80" y1="195.00" x2="550.70" y2="195.00" stroke="#9440c4" stroke-width="1.3" />
<text x="488.75" y="251" font-family="Liberation Sans, sans-serif" font-style="italic" font-weight="normal" font-size="16" fill="#9440c4" text-anchor="start" >3,57</text>
<text x="581" y="256.5" font-family="Liberation Sans, sans-serif" font-style="italic" font-weight="normal" font-size="16" fill="#9440c4" text-anchor="start" >6,86</text>
<line x1="575.00" y1="260.00" x2="617.50" y2="260.00" stroke="#9440c4" stroke-width="1.3" />
<text x="494" y="411.5" font-family="Liberation Sans, sans-serif" font-style="italic" font-weight="normal" font-size="16" fill="#9440c4" text-anchor="start" >13,4</text>
<line x1="486.00" y1="415.00" x2="526.00" y2="415.00" stroke="#9440c4" stroke-width="1.3" />
<text x="566" y="402.5" font-family="Liberation Sans, sans-serif" font-style="italic" font-weight="normal" font-size="16" fill="#9440c4" text-anchor="start" >12,6</text>
<line x1="559.00" y1="406.00" x2="597.50" y2="406.00" stroke="#9440c4" stroke-width="1.3" />
<text x="559.6" y="464" font-family="Liberation Sans, sans-serif" font-style="italic" font-weight="normal" font-size="16" fill="#9440c4" text-anchor="start" >55,55</text>
<line x1="552.00" y1="467.50" x2="604.00" y2="467.50" stroke="#9440c4" stroke-width="1.3" />
<text x="380" y="493" font-family="Liberation Sans, sans-serif" font-style="italic" font-weight="normal" font-size="16" fill="#9440c4" text-anchor="start" >44,8</text>
<line x1="373.00" y1="497.00" x2="416.00" y2="497.00" stroke="#9440c4" stroke-width="1.3" />
<text x="540" y="561.5" font-family="Liberation Sans, sans-serif" font-style="italic" font-weight="normal" font-size="16" fill="#9440c4" text-anchor="start" >10.20</text>
<line x1="531.50" y1="565.30" x2="580.00" y2="565.30" stroke="#9440c4" stroke-width="1.3" /><text x="281" y="70" font-family="Liberation Sans, sans-serif" font-style="italic" font-weight="bold" font-size="39.8" fill="#000">Типовой этаж 9 и 11 корпуса.</text></svg></body></html>
